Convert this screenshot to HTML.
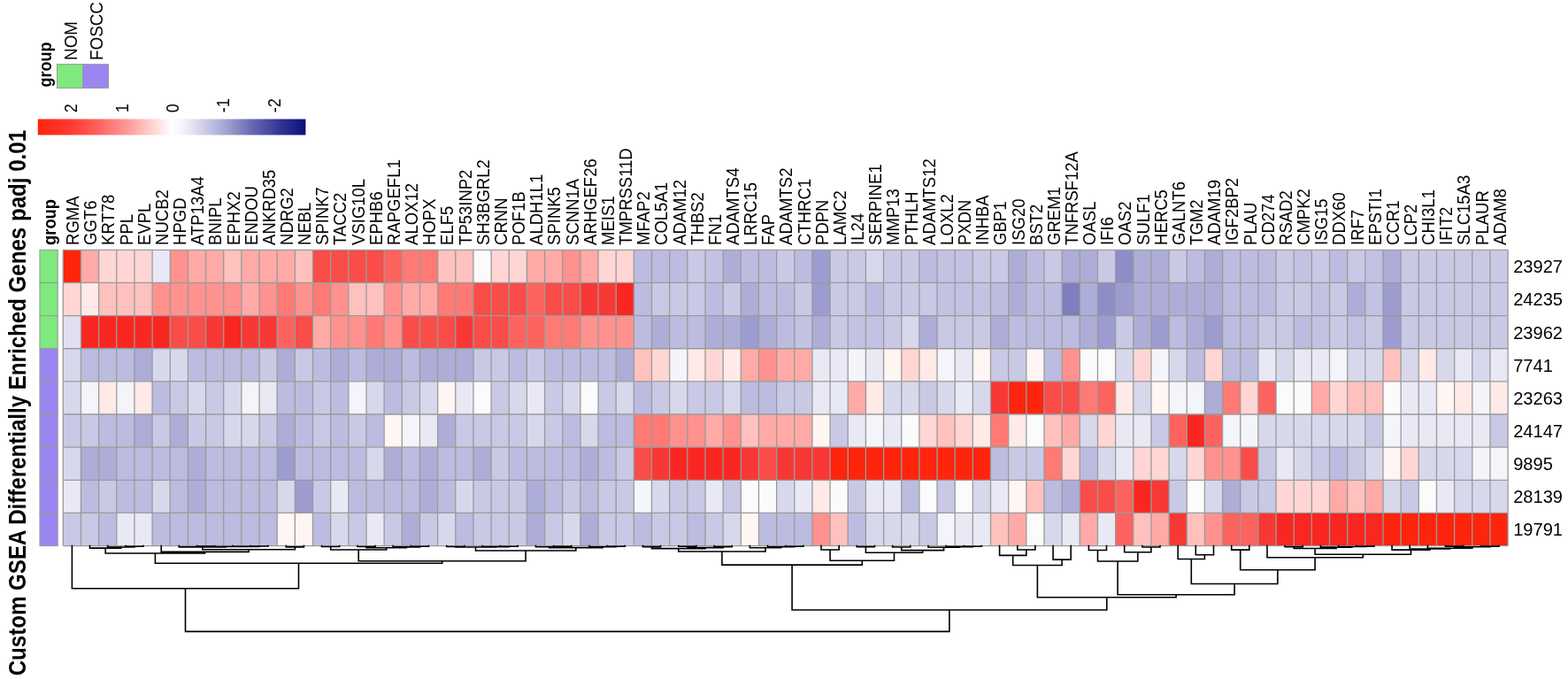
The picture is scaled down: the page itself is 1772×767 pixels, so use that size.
<!DOCTYPE html>
<html><head><meta charset="utf-8"><title>Custom GSEA Differentially Enriched Genes padj 0.01</title>
<style>html,body{margin:0;padding:0;background:#fff;}svg{display:block;}text{font-family:'Liberation Sans', Arial, Helvetica, sans-serif;fill:#000;}</style></head><body>
<svg width="1772" height="767" viewBox="0 0 1772 767">
<rect width="1772" height="767" fill="#fff"/>
<text transform="translate(29.3,763.3) rotate(-90) scale(1,1.110)" font-size="24.1" font-weight="bold">Custom GSEA Differentially Enriched Genes padj 0.01</text>
<text transform="translate(58.0,98.5) rotate(-90) scale(1,1.100)" font-size="18" font-weight="bold">group</text>
<rect x="64.5" y="72.6" width="29" height="26.8" fill="#7eea7e" stroke="#999" stroke-width="1"/>
<rect x="93.5" y="72.6" width="29" height="26.8" fill="#9b85f0" stroke="#999" stroke-width="1"/>
<text transform="translate(86.8,67.9) rotate(-90) scale(1,1.100)" font-size="18.8">NOM</text>
<text transform="translate(115.8,67.9) rotate(-90) scale(1,1.100)" font-size="18.8">FOSCC</text>
<defs><linearGradient id="cb" x1="0" x2="1" y1="0" y2="0"><stop offset="0" stop-color="#ff230f"/><stop offset="0.12" stop-color="#ff3a30"/><stop offset="0.22" stop-color="#ff5f5a"/><stop offset="0.33" stop-color="#ff9696"/><stop offset="0.42" stop-color="#ffcdcd"/><stop offset="0.5" stop-color="#ffffff"/><stop offset="0.53" stop-color="#f8f8fb"/><stop offset="0.6" stop-color="#d8d8ec"/><stop offset="0.7" stop-color="#a5a5d3"/><stop offset="0.8" stop-color="#6868b4"/><stop offset="0.9" stop-color="#343796"/><stop offset="1" stop-color="#0a0f7d"/></linearGradient></defs>
<rect x="42.8" y="134.5" width="302.6" height="18" fill="url(#cb)"/>
<text transform="translate(87.3,127.2) rotate(-90) scale(1,1.100)" font-size="18">2</text>
<text transform="translate(144.6,127.2) rotate(-90) scale(1,1.100)" font-size="18">1</text>
<text transform="translate(201.9,127.2) rotate(-90) scale(1,1.100)" font-size="18">0</text>
<text transform="translate(259.2,127.2) rotate(-90) scale(1,1.100)" font-size="18">-1</text>
<text transform="translate(316.5,127.2) rotate(-90) scale(1,1.100)" font-size="18">-2</text>
<text transform="translate(62.6,277.0) rotate(-90) scale(1,1.100)" font-size="18.4" font-weight="bold">group</text>
<rect x="45.0" y="282.30" width="20.2" height="37.14" fill="#7eea7e" stroke="#999" stroke-width="1.1"/>
<rect x="45.0" y="319.44" width="20.2" height="37.14" fill="#7eea7e" stroke="#999" stroke-width="1.1"/>
<rect x="45.0" y="356.59" width="20.2" height="37.14" fill="#7eea7e" stroke="#999" stroke-width="1.1"/>
<rect x="45.0" y="393.73" width="20.2" height="37.14" fill="#9b85f0" stroke="#999" stroke-width="1.1"/>
<rect x="45.0" y="430.88" width="20.2" height="37.14" fill="#9b85f0" stroke="#999" stroke-width="1.1"/>
<rect x="45.0" y="468.02" width="20.2" height="37.14" fill="#9b85f0" stroke="#999" stroke-width="1.1"/>
<rect x="45.0" y="505.17" width="20.2" height="37.14" fill="#9b85f0" stroke="#999" stroke-width="1.1"/>
<rect x="45.0" y="542.31" width="20.2" height="37.14" fill="#9b85f0" stroke="#999" stroke-width="1.1"/>
<rect x="45.0" y="579.46" width="20.2" height="37.14" fill="#9b85f0" stroke="#999" stroke-width="1.1"/>
<rect x="71.30" y="282.30" width="20.16" height="37.14" fill="#ff240c"/>
<rect x="91.46" y="282.30" width="20.16" height="37.14" fill="#ffaaa6"/>
<rect x="111.62" y="282.30" width="20.16" height="37.14" fill="#ffd6d4"/>
<rect x="131.77" y="282.30" width="20.16" height="37.14" fill="#ffd6d4"/>
<rect x="151.93" y="282.30" width="20.16" height="37.14" fill="#ffd6d4"/>
<rect x="172.09" y="282.30" width="20.16" height="37.14" fill="#e9e9f6"/>
<rect x="192.25" y="282.30" width="20.16" height="37.14" fill="#ff928e"/>
<rect x="212.41" y="282.30" width="20.16" height="37.14" fill="#ffaaa6"/>
<rect x="232.56" y="282.30" width="20.16" height="37.14" fill="#ffaaa6"/>
<rect x="252.72" y="282.30" width="20.16" height="37.14" fill="#ffc1be"/>
<rect x="272.88" y="282.30" width="20.16" height="37.14" fill="#ffaaa6"/>
<rect x="293.04" y="282.30" width="20.16" height="37.14" fill="#ffaaa6"/>
<rect x="313.20" y="282.30" width="20.16" height="37.14" fill="#ffaaa6"/>
<rect x="333.35" y="282.30" width="20.16" height="37.14" fill="#ffc1be"/>
<rect x="353.51" y="282.30" width="20.16" height="37.14" fill="#fa4c48"/>
<rect x="373.67" y="282.30" width="20.16" height="37.14" fill="#fa4c48"/>
<rect x="393.83" y="282.30" width="20.16" height="37.14" fill="#fa4c48"/>
<rect x="413.99" y="282.30" width="20.16" height="37.14" fill="#fa4c48"/>
<rect x="434.14" y="282.30" width="20.16" height="37.14" fill="#fd635e"/>
<rect x="454.30" y="282.30" width="20.16" height="37.14" fill="#ff7a75"/>
<rect x="474.46" y="282.30" width="20.16" height="37.14" fill="#ff7a75"/>
<rect x="494.62" y="282.30" width="20.16" height="37.14" fill="#ffc1be"/>
<rect x="514.78" y="282.30" width="20.16" height="37.14" fill="#ffc1be"/>
<rect x="534.93" y="282.30" width="20.16" height="37.14" fill="#fcfbfc"/>
<rect x="555.09" y="282.30" width="20.16" height="37.14" fill="#ffd6d4"/>
<rect x="575.25" y="282.30" width="20.16" height="37.14" fill="#ffd6d4"/>
<rect x="595.41" y="282.30" width="20.16" height="37.14" fill="#ffaaa6"/>
<rect x="615.57" y="282.30" width="20.16" height="37.14" fill="#ffaaa6"/>
<rect x="635.72" y="282.30" width="20.16" height="37.14" fill="#ff928e"/>
<rect x="655.88" y="282.30" width="20.16" height="37.14" fill="#ffaaa6"/>
<rect x="676.04" y="282.30" width="20.16" height="37.14" fill="#ffd6d4"/>
<rect x="696.20" y="282.30" width="20.16" height="37.14" fill="#ffd6d4"/>
<rect x="716.36" y="282.30" width="20.16" height="37.14" fill="#bcbce0"/>
<rect x="736.51" y="282.30" width="20.16" height="37.14" fill="#bcbce0"/>
<rect x="756.67" y="282.30" width="20.16" height="37.14" fill="#bcbce0"/>
<rect x="776.83" y="282.30" width="20.16" height="37.14" fill="#c9c9e6"/>
<rect x="796.99" y="282.30" width="20.16" height="37.14" fill="#c2c2e3"/>
<rect x="817.15" y="282.30" width="20.16" height="37.14" fill="#adadd8"/>
<rect x="837.30" y="282.30" width="20.16" height="37.14" fill="#bcbce0"/>
<rect x="857.46" y="282.30" width="20.16" height="37.14" fill="#bcbce0"/>
<rect x="877.62" y="282.30" width="20.16" height="37.14" fill="#c9c9e6"/>
<rect x="897.78" y="282.30" width="20.16" height="37.14" fill="#bcbce0"/>
<rect x="917.94" y="282.30" width="20.16" height="37.14" fill="#9c9cd0"/>
<rect x="938.10" y="282.30" width="20.16" height="37.14" fill="#c9c9e6"/>
<rect x="958.25" y="282.30" width="20.16" height="37.14" fill="#c9c9e6"/>
<rect x="978.41" y="282.30" width="20.16" height="37.14" fill="#d8d8ed"/>
<rect x="998.57" y="282.30" width="20.16" height="37.14" fill="#c9c9e6"/>
<rect x="1018.73" y="282.30" width="20.16" height="37.14" fill="#c9c9e6"/>
<rect x="1038.89" y="282.30" width="20.16" height="37.14" fill="#bcbce0"/>
<rect x="1059.04" y="282.30" width="20.16" height="37.14" fill="#c2c2e3"/>
<rect x="1079.20" y="282.30" width="20.16" height="37.14" fill="#c2c2e3"/>
<rect x="1099.36" y="282.30" width="20.16" height="37.14" fill="#c9c9e6"/>
<rect x="1119.52" y="282.30" width="20.16" height="37.14" fill="#c9c9e6"/>
<rect x="1139.68" y="282.30" width="20.16" height="37.14" fill="#adadd8"/>
<rect x="1159.83" y="282.30" width="20.16" height="37.14" fill="#bcbce0"/>
<rect x="1179.99" y="282.30" width="20.16" height="37.14" fill="#c9c9e6"/>
<rect x="1200.15" y="282.30" width="20.16" height="37.14" fill="#adadd8"/>
<rect x="1220.31" y="282.30" width="20.16" height="37.14" fill="#adadd8"/>
<rect x="1240.47" y="282.30" width="20.16" height="37.14" fill="#c9c9e6"/>
<rect x="1260.62" y="282.30" width="20.16" height="37.14" fill="#8d8dc8"/>
<rect x="1280.78" y="282.30" width="20.16" height="37.14" fill="#adadd8"/>
<rect x="1300.94" y="282.30" width="20.16" height="37.14" fill="#adadd8"/>
<rect x="1321.10" y="282.30" width="20.16" height="37.14" fill="#c9c9e6"/>
<rect x="1341.26" y="282.30" width="20.16" height="37.14" fill="#bcbce0"/>
<rect x="1361.41" y="282.30" width="20.16" height="37.14" fill="#adadd8"/>
<rect x="1381.57" y="282.30" width="20.16" height="37.14" fill="#bcbce0"/>
<rect x="1401.73" y="282.30" width="20.16" height="37.14" fill="#bcbce0"/>
<rect x="1421.89" y="282.30" width="20.16" height="37.14" fill="#bcbce0"/>
<rect x="1442.05" y="282.30" width="20.16" height="37.14" fill="#c9c9e6"/>
<rect x="1462.20" y="282.30" width="20.16" height="37.14" fill="#c2c2e3"/>
<rect x="1482.36" y="282.30" width="20.16" height="37.14" fill="#c9c9e6"/>
<rect x="1502.52" y="282.30" width="20.16" height="37.14" fill="#bcbce0"/>
<rect x="1522.68" y="282.30" width="20.16" height="37.14" fill="#c9c9e6"/>
<rect x="1542.84" y="282.30" width="20.16" height="37.14" fill="#c2c2e3"/>
<rect x="1562.99" y="282.30" width="20.16" height="37.14" fill="#adadd8"/>
<rect x="1583.15" y="282.30" width="20.16" height="37.14" fill="#c9c9e6"/>
<rect x="1603.31" y="282.30" width="20.16" height="37.14" fill="#c9c9e6"/>
<rect x="1623.47" y="282.30" width="20.16" height="37.14" fill="#c9c9e6"/>
<rect x="1643.63" y="282.30" width="20.16" height="37.14" fill="#c9c9e6"/>
<rect x="1663.78" y="282.30" width="20.16" height="37.14" fill="#c9c9e6"/>
<rect x="1683.94" y="282.30" width="20.16" height="37.14" fill="#c9c9e6"/>
<rect x="71.30" y="319.44" width="20.16" height="37.14" fill="#ffd6d4"/>
<rect x="91.46" y="319.44" width="20.16" height="37.14" fill="#ffeae8"/>
<rect x="111.62" y="319.44" width="20.16" height="37.14" fill="#ffc1be"/>
<rect x="131.77" y="319.44" width="20.16" height="37.14" fill="#ffc1be"/>
<rect x="151.93" y="319.44" width="20.16" height="37.14" fill="#ffc1be"/>
<rect x="172.09" y="319.44" width="20.16" height="37.14" fill="#ff928e"/>
<rect x="192.25" y="319.44" width="20.16" height="37.14" fill="#ff928e"/>
<rect x="212.41" y="319.44" width="20.16" height="37.14" fill="#ff928e"/>
<rect x="232.56" y="319.44" width="20.16" height="37.14" fill="#ff928e"/>
<rect x="252.72" y="319.44" width="20.16" height="37.14" fill="#ff928e"/>
<rect x="272.88" y="319.44" width="20.16" height="37.14" fill="#ffaaa6"/>
<rect x="293.04" y="319.44" width="20.16" height="37.14" fill="#ff928e"/>
<rect x="313.20" y="319.44" width="20.16" height="37.14" fill="#ff7a75"/>
<rect x="333.35" y="319.44" width="20.16" height="37.14" fill="#ff928e"/>
<rect x="353.51" y="319.44" width="20.16" height="37.14" fill="#ff7a75"/>
<rect x="373.67" y="319.44" width="20.16" height="37.14" fill="#ff928e"/>
<rect x="393.83" y="319.44" width="20.16" height="37.14" fill="#ffc1be"/>
<rect x="413.99" y="319.44" width="20.16" height="37.14" fill="#ffc1be"/>
<rect x="434.14" y="319.44" width="20.16" height="37.14" fill="#ff928e"/>
<rect x="454.30" y="319.44" width="20.16" height="37.14" fill="#ffaaa6"/>
<rect x="474.46" y="319.44" width="20.16" height="37.14" fill="#ffaaa6"/>
<rect x="494.62" y="319.44" width="20.16" height="37.14" fill="#ff7a75"/>
<rect x="514.78" y="319.44" width="20.16" height="37.14" fill="#ff7a75"/>
<rect x="534.93" y="319.44" width="20.16" height="37.14" fill="#fa4c48"/>
<rect x="555.09" y="319.44" width="20.16" height="37.14" fill="#fa4c48"/>
<rect x="575.25" y="319.44" width="20.16" height="37.14" fill="#fa4c48"/>
<rect x="595.41" y="319.44" width="20.16" height="37.14" fill="#fd635e"/>
<rect x="615.57" y="319.44" width="20.16" height="37.14" fill="#fa4c48"/>
<rect x="635.72" y="319.44" width="20.16" height="37.14" fill="#fa4c48"/>
<rect x="655.88" y="319.44" width="20.16" height="37.14" fill="#f83835"/>
<rect x="676.04" y="319.44" width="20.16" height="37.14" fill="#f83835"/>
<rect x="696.20" y="319.44" width="20.16" height="37.14" fill="#fa2621"/>
<rect x="716.36" y="319.44" width="20.16" height="37.14" fill="#bcbce0"/>
<rect x="736.51" y="319.44" width="20.16" height="37.14" fill="#c9c9e6"/>
<rect x="756.67" y="319.44" width="20.16" height="37.14" fill="#c9c9e6"/>
<rect x="776.83" y="319.44" width="20.16" height="37.14" fill="#c9c9e6"/>
<rect x="796.99" y="319.44" width="20.16" height="37.14" fill="#bcbce0"/>
<rect x="817.15" y="319.44" width="20.16" height="37.14" fill="#c9c9e6"/>
<rect x="837.30" y="319.44" width="20.16" height="37.14" fill="#adadd8"/>
<rect x="857.46" y="319.44" width="20.16" height="37.14" fill="#bcbce0"/>
<rect x="877.62" y="319.44" width="20.16" height="37.14" fill="#bcbce0"/>
<rect x="897.78" y="319.44" width="20.16" height="37.14" fill="#c9c9e6"/>
<rect x="917.94" y="319.44" width="20.16" height="37.14" fill="#9c9cd0"/>
<rect x="938.10" y="319.44" width="20.16" height="37.14" fill="#c9c9e6"/>
<rect x="958.25" y="319.44" width="20.16" height="37.14" fill="#c9c9e6"/>
<rect x="978.41" y="319.44" width="20.16" height="37.14" fill="#bcbce0"/>
<rect x="998.57" y="319.44" width="20.16" height="37.14" fill="#c9c9e6"/>
<rect x="1018.73" y="319.44" width="20.16" height="37.14" fill="#c9c9e6"/>
<rect x="1038.89" y="319.44" width="20.16" height="37.14" fill="#c9c9e6"/>
<rect x="1059.04" y="319.44" width="20.16" height="37.14" fill="#c2c2e3"/>
<rect x="1079.20" y="319.44" width="20.16" height="37.14" fill="#c2c2e3"/>
<rect x="1099.36" y="319.44" width="20.16" height="37.14" fill="#c2c2e3"/>
<rect x="1119.52" y="319.44" width="20.16" height="37.14" fill="#bcbce0"/>
<rect x="1139.68" y="319.44" width="20.16" height="37.14" fill="#adadd8"/>
<rect x="1159.83" y="319.44" width="20.16" height="37.14" fill="#bcbce0"/>
<rect x="1179.99" y="319.44" width="20.16" height="37.14" fill="#bcbce0"/>
<rect x="1200.15" y="319.44" width="20.16" height="37.14" fill="#7e7ec0"/>
<rect x="1220.31" y="319.44" width="20.16" height="37.14" fill="#adadd8"/>
<rect x="1240.47" y="319.44" width="20.16" height="37.14" fill="#8d8dc8"/>
<rect x="1260.62" y="319.44" width="20.16" height="37.14" fill="#9c9cd0"/>
<rect x="1280.78" y="319.44" width="20.16" height="37.14" fill="#adadd8"/>
<rect x="1300.94" y="319.44" width="20.16" height="37.14" fill="#adadd8"/>
<rect x="1321.10" y="319.44" width="20.16" height="37.14" fill="#adadd8"/>
<rect x="1341.26" y="319.44" width="20.16" height="37.14" fill="#adadd8"/>
<rect x="1361.41" y="319.44" width="20.16" height="37.14" fill="#adadd8"/>
<rect x="1381.57" y="319.44" width="20.16" height="37.14" fill="#bcbce0"/>
<rect x="1401.73" y="319.44" width="20.16" height="37.14" fill="#bcbce0"/>
<rect x="1421.89" y="319.44" width="20.16" height="37.14" fill="#bcbce0"/>
<rect x="1442.05" y="319.44" width="20.16" height="37.14" fill="#c9c9e6"/>
<rect x="1462.20" y="319.44" width="20.16" height="37.14" fill="#c9c9e6"/>
<rect x="1482.36" y="319.44" width="20.16" height="37.14" fill="#c2c2e3"/>
<rect x="1502.52" y="319.44" width="20.16" height="37.14" fill="#c9c9e6"/>
<rect x="1522.68" y="319.44" width="20.16" height="37.14" fill="#adadd8"/>
<rect x="1542.84" y="319.44" width="20.16" height="37.14" fill="#c2c2e3"/>
<rect x="1562.99" y="319.44" width="20.16" height="37.14" fill="#9c9cd0"/>
<rect x="1583.15" y="319.44" width="20.16" height="37.14" fill="#c9c9e6"/>
<rect x="1603.31" y="319.44" width="20.16" height="37.14" fill="#c9c9e6"/>
<rect x="1623.47" y="319.44" width="20.16" height="37.14" fill="#c9c9e6"/>
<rect x="1643.63" y="319.44" width="20.16" height="37.14" fill="#c9c9e6"/>
<rect x="1663.78" y="319.44" width="20.16" height="37.14" fill="#c9c9e6"/>
<rect x="1683.94" y="319.44" width="20.16" height="37.14" fill="#c9c9e6"/>
<rect x="71.30" y="356.59" width="20.16" height="37.14" fill="#e0e0f1"/>
<rect x="91.46" y="356.59" width="20.16" height="37.14" fill="#fa2621"/>
<rect x="111.62" y="356.59" width="20.16" height="37.14" fill="#fa2621"/>
<rect x="131.77" y="356.59" width="20.16" height="37.14" fill="#fa2621"/>
<rect x="151.93" y="356.59" width="20.16" height="37.14" fill="#fa2621"/>
<rect x="172.09" y="356.59" width="20.16" height="37.14" fill="#fa2621"/>
<rect x="192.25" y="356.59" width="20.16" height="37.14" fill="#fa4c48"/>
<rect x="212.41" y="356.59" width="20.16" height="37.14" fill="#fa4c48"/>
<rect x="232.56" y="356.59" width="20.16" height="37.14" fill="#f83835"/>
<rect x="252.72" y="356.59" width="20.16" height="37.14" fill="#fa2621"/>
<rect x="272.88" y="356.59" width="20.16" height="37.14" fill="#f83835"/>
<rect x="293.04" y="356.59" width="20.16" height="37.14" fill="#f83835"/>
<rect x="313.20" y="356.59" width="20.16" height="37.14" fill="#fd635e"/>
<rect x="333.35" y="356.59" width="20.16" height="37.14" fill="#fa4c48"/>
<rect x="353.51" y="356.59" width="20.16" height="37.14" fill="#ffaaa6"/>
<rect x="373.67" y="356.59" width="20.16" height="37.14" fill="#ff928e"/>
<rect x="393.83" y="356.59" width="20.16" height="37.14" fill="#ff928e"/>
<rect x="413.99" y="356.59" width="20.16" height="37.14" fill="#ff7a75"/>
<rect x="434.14" y="356.59" width="20.16" height="37.14" fill="#ff928e"/>
<rect x="454.30" y="356.59" width="20.16" height="37.14" fill="#fa4c48"/>
<rect x="474.46" y="356.59" width="20.16" height="37.14" fill="#fa4c48"/>
<rect x="494.62" y="356.59" width="20.16" height="37.14" fill="#fa4c48"/>
<rect x="514.78" y="356.59" width="20.16" height="37.14" fill="#f83835"/>
<rect x="534.93" y="356.59" width="20.16" height="37.14" fill="#fa4c48"/>
<rect x="555.09" y="356.59" width="20.16" height="37.14" fill="#fa4c48"/>
<rect x="575.25" y="356.59" width="20.16" height="37.14" fill="#fd635e"/>
<rect x="595.41" y="356.59" width="20.16" height="37.14" fill="#fd635e"/>
<rect x="615.57" y="356.59" width="20.16" height="37.14" fill="#ff7a75"/>
<rect x="635.72" y="356.59" width="20.16" height="37.14" fill="#ff7a75"/>
<rect x="655.88" y="356.59" width="20.16" height="37.14" fill="#ff928e"/>
<rect x="676.04" y="356.59" width="20.16" height="37.14" fill="#ff928e"/>
<rect x="696.20" y="356.59" width="20.16" height="37.14" fill="#ff928e"/>
<rect x="716.36" y="356.59" width="20.16" height="37.14" fill="#bcbce0"/>
<rect x="736.51" y="356.59" width="20.16" height="37.14" fill="#adadd8"/>
<rect x="756.67" y="356.59" width="20.16" height="37.14" fill="#bcbce0"/>
<rect x="776.83" y="356.59" width="20.16" height="37.14" fill="#bcbce0"/>
<rect x="796.99" y="356.59" width="20.16" height="37.14" fill="#adadd8"/>
<rect x="817.15" y="356.59" width="20.16" height="37.14" fill="#adadd8"/>
<rect x="837.30" y="356.59" width="20.16" height="37.14" fill="#9c9cd0"/>
<rect x="857.46" y="356.59" width="20.16" height="37.14" fill="#adadd8"/>
<rect x="877.62" y="356.59" width="20.16" height="37.14" fill="#bcbce0"/>
<rect x="897.78" y="356.59" width="20.16" height="37.14" fill="#c2c2e3"/>
<rect x="917.94" y="356.59" width="20.16" height="37.14" fill="#adadd8"/>
<rect x="938.10" y="356.59" width="20.16" height="37.14" fill="#c9c9e6"/>
<rect x="958.25" y="356.59" width="20.16" height="37.14" fill="#c2c2e3"/>
<rect x="978.41" y="356.59" width="20.16" height="37.14" fill="#c2c2e3"/>
<rect x="998.57" y="356.59" width="20.16" height="37.14" fill="#c9c9e6"/>
<rect x="1018.73" y="356.59" width="20.16" height="37.14" fill="#d8d8ed"/>
<rect x="1038.89" y="356.59" width="20.16" height="37.14" fill="#adadd8"/>
<rect x="1059.04" y="356.59" width="20.16" height="37.14" fill="#c9c9e6"/>
<rect x="1079.20" y="356.59" width="20.16" height="37.14" fill="#c9c9e6"/>
<rect x="1099.36" y="356.59" width="20.16" height="37.14" fill="#c9c9e6"/>
<rect x="1119.52" y="356.59" width="20.16" height="37.14" fill="#adadd8"/>
<rect x="1139.68" y="356.59" width="20.16" height="37.14" fill="#bcbce0"/>
<rect x="1159.83" y="356.59" width="20.16" height="37.14" fill="#bcbce0"/>
<rect x="1179.99" y="356.59" width="20.16" height="37.14" fill="#bcbce0"/>
<rect x="1200.15" y="356.59" width="20.16" height="37.14" fill="#bcbce0"/>
<rect x="1220.31" y="356.59" width="20.16" height="37.14" fill="#adadd8"/>
<rect x="1240.47" y="356.59" width="20.16" height="37.14" fill="#9c9cd0"/>
<rect x="1260.62" y="356.59" width="20.16" height="37.14" fill="#c9c9e6"/>
<rect x="1280.78" y="356.59" width="20.16" height="37.14" fill="#adadd8"/>
<rect x="1300.94" y="356.59" width="20.16" height="37.14" fill="#9c9cd0"/>
<rect x="1321.10" y="356.59" width="20.16" height="37.14" fill="#bcbce0"/>
<rect x="1341.26" y="356.59" width="20.16" height="37.14" fill="#adadd8"/>
<rect x="1361.41" y="356.59" width="20.16" height="37.14" fill="#9c9cd0"/>
<rect x="1381.57" y="356.59" width="20.16" height="37.14" fill="#bcbce0"/>
<rect x="1401.73" y="356.59" width="20.16" height="37.14" fill="#bcbce0"/>
<rect x="1421.89" y="356.59" width="20.16" height="37.14" fill="#c9c9e6"/>
<rect x="1442.05" y="356.59" width="20.16" height="37.14" fill="#c9c9e6"/>
<rect x="1462.20" y="356.59" width="20.16" height="37.14" fill="#bcbce0"/>
<rect x="1482.36" y="356.59" width="20.16" height="37.14" fill="#c2c2e3"/>
<rect x="1502.52" y="356.59" width="20.16" height="37.14" fill="#c9c9e6"/>
<rect x="1522.68" y="356.59" width="20.16" height="37.14" fill="#c2c2e3"/>
<rect x="1542.84" y="356.59" width="20.16" height="37.14" fill="#c9c9e6"/>
<rect x="1562.99" y="356.59" width="20.16" height="37.14" fill="#9c9cd0"/>
<rect x="1583.15" y="356.59" width="20.16" height="37.14" fill="#c9c9e6"/>
<rect x="1603.31" y="356.59" width="20.16" height="37.14" fill="#c9c9e6"/>
<rect x="1623.47" y="356.59" width="20.16" height="37.14" fill="#c9c9e6"/>
<rect x="1643.63" y="356.59" width="20.16" height="37.14" fill="#c9c9e6"/>
<rect x="1663.78" y="356.59" width="20.16" height="37.14" fill="#c9c9e6"/>
<rect x="1683.94" y="356.59" width="20.16" height="37.14" fill="#c9c9e6"/>
<rect x="71.30" y="393.73" width="20.16" height="37.14" fill="#d8d8ed"/>
<rect x="91.46" y="393.73" width="20.16" height="37.14" fill="#bcbce0"/>
<rect x="111.62" y="393.73" width="20.16" height="37.14" fill="#bcbce0"/>
<rect x="131.77" y="393.73" width="20.16" height="37.14" fill="#bcbce0"/>
<rect x="151.93" y="393.73" width="20.16" height="37.14" fill="#adadd8"/>
<rect x="172.09" y="393.73" width="20.16" height="37.14" fill="#d8d8ed"/>
<rect x="192.25" y="393.73" width="20.16" height="37.14" fill="#d8d8ed"/>
<rect x="212.41" y="393.73" width="20.16" height="37.14" fill="#bcbce0"/>
<rect x="232.56" y="393.73" width="20.16" height="37.14" fill="#bcbce0"/>
<rect x="252.72" y="393.73" width="20.16" height="37.14" fill="#bcbce0"/>
<rect x="272.88" y="393.73" width="20.16" height="37.14" fill="#bcbce0"/>
<rect x="293.04" y="393.73" width="20.16" height="37.14" fill="#c9c9e6"/>
<rect x="313.20" y="393.73" width="20.16" height="37.14" fill="#adadd8"/>
<rect x="333.35" y="393.73" width="20.16" height="37.14" fill="#c9c9e6"/>
<rect x="353.51" y="393.73" width="20.16" height="37.14" fill="#bcbce0"/>
<rect x="373.67" y="393.73" width="20.16" height="37.14" fill="#adadd8"/>
<rect x="393.83" y="393.73" width="20.16" height="37.14" fill="#bcbce0"/>
<rect x="413.99" y="393.73" width="20.16" height="37.14" fill="#adadd8"/>
<rect x="434.14" y="393.73" width="20.16" height="37.14" fill="#adadd8"/>
<rect x="454.30" y="393.73" width="20.16" height="37.14" fill="#bcbce0"/>
<rect x="474.46" y="393.73" width="20.16" height="37.14" fill="#adadd8"/>
<rect x="494.62" y="393.73" width="20.16" height="37.14" fill="#adadd8"/>
<rect x="514.78" y="393.73" width="20.16" height="37.14" fill="#adadd8"/>
<rect x="534.93" y="393.73" width="20.16" height="37.14" fill="#c9c9e6"/>
<rect x="555.09" y="393.73" width="20.16" height="37.14" fill="#c9c9e6"/>
<rect x="575.25" y="393.73" width="20.16" height="37.14" fill="#bcbce0"/>
<rect x="595.41" y="393.73" width="20.16" height="37.14" fill="#c9c9e6"/>
<rect x="615.57" y="393.73" width="20.16" height="37.14" fill="#bcbce0"/>
<rect x="635.72" y="393.73" width="20.16" height="37.14" fill="#bcbce0"/>
<rect x="655.88" y="393.73" width="20.16" height="37.14" fill="#bcbce0"/>
<rect x="676.04" y="393.73" width="20.16" height="37.14" fill="#bcbce0"/>
<rect x="696.20" y="393.73" width="20.16" height="37.14" fill="#adadd8"/>
<rect x="716.36" y="393.73" width="20.16" height="37.14" fill="#ffc1be"/>
<rect x="736.51" y="393.73" width="20.16" height="37.14" fill="#ffd6d4"/>
<rect x="756.67" y="393.73" width="20.16" height="37.14" fill="#f4f4fb"/>
<rect x="776.83" y="393.73" width="20.16" height="37.14" fill="#ffeae8"/>
<rect x="796.99" y="393.73" width="20.16" height="37.14" fill="#ffd6d4"/>
<rect x="817.15" y="393.73" width="20.16" height="37.14" fill="#ffeae8"/>
<rect x="837.30" y="393.73" width="20.16" height="37.14" fill="#ffaaa6"/>
<rect x="857.46" y="393.73" width="20.16" height="37.14" fill="#ff928e"/>
<rect x="877.62" y="393.73" width="20.16" height="37.14" fill="#ffaaa6"/>
<rect x="897.78" y="393.73" width="20.16" height="37.14" fill="#ffaaa6"/>
<rect x="917.94" y="393.73" width="20.16" height="37.14" fill="#e9e9f6"/>
<rect x="938.10" y="393.73" width="20.16" height="37.14" fill="#e9e9f6"/>
<rect x="958.25" y="393.73" width="20.16" height="37.14" fill="#f4f4fb"/>
<rect x="978.41" y="393.73" width="20.16" height="37.14" fill="#e9e9f6"/>
<rect x="998.57" y="393.73" width="20.16" height="37.14" fill="#fff5f3"/>
<rect x="1018.73" y="393.73" width="20.16" height="37.14" fill="#ffd6d4"/>
<rect x="1038.89" y="393.73" width="20.16" height="37.14" fill="#ffeae8"/>
<rect x="1059.04" y="393.73" width="20.16" height="37.14" fill="#f4f4fb"/>
<rect x="1079.20" y="393.73" width="20.16" height="37.14" fill="#e9e9f6"/>
<rect x="1099.36" y="393.73" width="20.16" height="37.14" fill="#fff5f3"/>
<rect x="1119.52" y="393.73" width="20.16" height="37.14" fill="#c9c9e6"/>
<rect x="1139.68" y="393.73" width="20.16" height="37.14" fill="#c9c9e6"/>
<rect x="1159.83" y="393.73" width="20.16" height="37.14" fill="#fff5f3"/>
<rect x="1179.99" y="393.73" width="20.16" height="37.14" fill="#bcbce0"/>
<rect x="1200.15" y="393.73" width="20.16" height="37.14" fill="#ff928e"/>
<rect x="1220.31" y="393.73" width="20.16" height="37.14" fill="#fcfbfc"/>
<rect x="1240.47" y="393.73" width="20.16" height="37.14" fill="#fcfbfc"/>
<rect x="1260.62" y="393.73" width="20.16" height="37.14" fill="#d8d8ed"/>
<rect x="1280.78" y="393.73" width="20.16" height="37.14" fill="#ffd6d4"/>
<rect x="1300.94" y="393.73" width="20.16" height="37.14" fill="#f4f4fb"/>
<rect x="1321.10" y="393.73" width="20.16" height="37.14" fill="#d8d8ed"/>
<rect x="1341.26" y="393.73" width="20.16" height="37.14" fill="#bcbce0"/>
<rect x="1361.41" y="393.73" width="20.16" height="37.14" fill="#ffd6d4"/>
<rect x="1381.57" y="393.73" width="20.16" height="37.14" fill="#bcbce0"/>
<rect x="1401.73" y="393.73" width="20.16" height="37.14" fill="#bcbce0"/>
<rect x="1421.89" y="393.73" width="20.16" height="37.14" fill="#e9e9f6"/>
<rect x="1442.05" y="393.73" width="20.16" height="37.14" fill="#d8d8ed"/>
<rect x="1462.20" y="393.73" width="20.16" height="37.14" fill="#e9e9f6"/>
<rect x="1482.36" y="393.73" width="20.16" height="37.14" fill="#e9e9f6"/>
<rect x="1502.52" y="393.73" width="20.16" height="37.14" fill="#f4f4fb"/>
<rect x="1522.68" y="393.73" width="20.16" height="37.14" fill="#d8d8ed"/>
<rect x="1542.84" y="393.73" width="20.16" height="37.14" fill="#d8d8ed"/>
<rect x="1562.99" y="393.73" width="20.16" height="37.14" fill="#ffc1be"/>
<rect x="1583.15" y="393.73" width="20.16" height="37.14" fill="#d8d8ed"/>
<rect x="1603.31" y="393.73" width="20.16" height="37.14" fill="#ffeae8"/>
<rect x="1623.47" y="393.73" width="20.16" height="37.14" fill="#d8d8ed"/>
<rect x="1643.63" y="393.73" width="20.16" height="37.14" fill="#e9e9f6"/>
<rect x="1663.78" y="393.73" width="20.16" height="37.14" fill="#d8d8ed"/>
<rect x="1683.94" y="393.73" width="20.16" height="37.14" fill="#e9e9f6"/>
<rect x="71.30" y="430.88" width="20.16" height="37.14" fill="#d8d8ed"/>
<rect x="91.46" y="430.88" width="20.16" height="37.14" fill="#f4f4fb"/>
<rect x="111.62" y="430.88" width="20.16" height="37.14" fill="#ffeae8"/>
<rect x="131.77" y="430.88" width="20.16" height="37.14" fill="#f4f4fb"/>
<rect x="151.93" y="430.88" width="20.16" height="37.14" fill="#ffeae8"/>
<rect x="172.09" y="430.88" width="20.16" height="37.14" fill="#bcbce0"/>
<rect x="192.25" y="430.88" width="20.16" height="37.14" fill="#c9c9e6"/>
<rect x="212.41" y="430.88" width="20.16" height="37.14" fill="#d8d8ed"/>
<rect x="232.56" y="430.88" width="20.16" height="37.14" fill="#c9c9e6"/>
<rect x="252.72" y="430.88" width="20.16" height="37.14" fill="#d8d8ed"/>
<rect x="272.88" y="430.88" width="20.16" height="37.14" fill="#f4f4fb"/>
<rect x="293.04" y="430.88" width="20.16" height="37.14" fill="#e9e9f6"/>
<rect x="313.20" y="430.88" width="20.16" height="37.14" fill="#bcbce0"/>
<rect x="333.35" y="430.88" width="20.16" height="37.14" fill="#bcbce0"/>
<rect x="353.51" y="430.88" width="20.16" height="37.14" fill="#c9c9e6"/>
<rect x="373.67" y="430.88" width="20.16" height="37.14" fill="#bcbce0"/>
<rect x="393.83" y="430.88" width="20.16" height="37.14" fill="#f4f4fb"/>
<rect x="413.99" y="430.88" width="20.16" height="37.14" fill="#d8d8ed"/>
<rect x="434.14" y="430.88" width="20.16" height="37.14" fill="#bcbce0"/>
<rect x="454.30" y="430.88" width="20.16" height="37.14" fill="#c9c9e6"/>
<rect x="474.46" y="430.88" width="20.16" height="37.14" fill="#d8d8ed"/>
<rect x="494.62" y="430.88" width="20.16" height="37.14" fill="#fff5f3"/>
<rect x="514.78" y="430.88" width="20.16" height="37.14" fill="#e9e9f6"/>
<rect x="534.93" y="430.88" width="20.16" height="37.14" fill="#fcfbfc"/>
<rect x="555.09" y="430.88" width="20.16" height="37.14" fill="#c9c9e6"/>
<rect x="575.25" y="430.88" width="20.16" height="37.14" fill="#d8d8ed"/>
<rect x="595.41" y="430.88" width="20.16" height="37.14" fill="#e9e9f6"/>
<rect x="615.57" y="430.88" width="20.16" height="37.14" fill="#c9c9e6"/>
<rect x="635.72" y="430.88" width="20.16" height="37.14" fill="#d8d8ed"/>
<rect x="655.88" y="430.88" width="20.16" height="37.14" fill="#fcfbfc"/>
<rect x="676.04" y="430.88" width="20.16" height="37.14" fill="#c9c9e6"/>
<rect x="696.20" y="430.88" width="20.16" height="37.14" fill="#d8d8ed"/>
<rect x="716.36" y="430.88" width="20.16" height="37.14" fill="#bcbce0"/>
<rect x="736.51" y="430.88" width="20.16" height="37.14" fill="#c9c9e6"/>
<rect x="756.67" y="430.88" width="20.16" height="37.14" fill="#d8d8ed"/>
<rect x="776.83" y="430.88" width="20.16" height="37.14" fill="#c9c9e6"/>
<rect x="796.99" y="430.88" width="20.16" height="37.14" fill="#c9c9e6"/>
<rect x="817.15" y="430.88" width="20.16" height="37.14" fill="#d8d8ed"/>
<rect x="837.30" y="430.88" width="20.16" height="37.14" fill="#bcbce0"/>
<rect x="857.46" y="430.88" width="20.16" height="37.14" fill="#bcbce0"/>
<rect x="877.62" y="430.88" width="20.16" height="37.14" fill="#c9c9e6"/>
<rect x="897.78" y="430.88" width="20.16" height="37.14" fill="#c9c9e6"/>
<rect x="917.94" y="430.88" width="20.16" height="37.14" fill="#e9e9f6"/>
<rect x="938.10" y="430.88" width="20.16" height="37.14" fill="#e9e9f6"/>
<rect x="958.25" y="430.88" width="20.16" height="37.14" fill="#ffaaa6"/>
<rect x="978.41" y="430.88" width="20.16" height="37.14" fill="#ffeae8"/>
<rect x="998.57" y="430.88" width="20.16" height="37.14" fill="#d8d8ed"/>
<rect x="1018.73" y="430.88" width="20.16" height="37.14" fill="#d8d8ed"/>
<rect x="1038.89" y="430.88" width="20.16" height="37.14" fill="#c9c9e6"/>
<rect x="1059.04" y="430.88" width="20.16" height="37.14" fill="#d8d8ed"/>
<rect x="1079.20" y="430.88" width="20.16" height="37.14" fill="#e9e9f6"/>
<rect x="1099.36" y="430.88" width="20.16" height="37.14" fill="#d8d8ed"/>
<rect x="1119.52" y="430.88" width="20.16" height="37.14" fill="#f83835"/>
<rect x="1139.68" y="430.88" width="20.16" height="37.14" fill="#ff240c"/>
<rect x="1159.83" y="430.88" width="20.16" height="37.14" fill="#ff240c"/>
<rect x="1179.99" y="430.88" width="20.16" height="37.14" fill="#fa4c48"/>
<rect x="1200.15" y="430.88" width="20.16" height="37.14" fill="#fa4c48"/>
<rect x="1220.31" y="430.88" width="20.16" height="37.14" fill="#ff7a75"/>
<rect x="1240.47" y="430.88" width="20.16" height="37.14" fill="#fd635e"/>
<rect x="1260.62" y="430.88" width="20.16" height="37.14" fill="#ffeae8"/>
<rect x="1280.78" y="430.88" width="20.16" height="37.14" fill="#d8d8ed"/>
<rect x="1300.94" y="430.88" width="20.16" height="37.14" fill="#fff5f3"/>
<rect x="1321.10" y="430.88" width="20.16" height="37.14" fill="#f4f4fb"/>
<rect x="1341.26" y="430.88" width="20.16" height="37.14" fill="#f4f4fb"/>
<rect x="1361.41" y="430.88" width="20.16" height="37.14" fill="#adadd8"/>
<rect x="1381.57" y="430.88" width="20.16" height="37.14" fill="#ff7a75"/>
<rect x="1401.73" y="430.88" width="20.16" height="37.14" fill="#ffd6d4"/>
<rect x="1421.89" y="430.88" width="20.16" height="37.14" fill="#fd635e"/>
<rect x="1442.05" y="430.88" width="20.16" height="37.14" fill="#fcfbfc"/>
<rect x="1462.20" y="430.88" width="20.16" height="37.14" fill="#fcfbfc"/>
<rect x="1482.36" y="430.88" width="20.16" height="37.14" fill="#ffaaa6"/>
<rect x="1502.52" y="430.88" width="20.16" height="37.14" fill="#ffd6d4"/>
<rect x="1522.68" y="430.88" width="20.16" height="37.14" fill="#ffc1be"/>
<rect x="1542.84" y="430.88" width="20.16" height="37.14" fill="#ffc1be"/>
<rect x="1562.99" y="430.88" width="20.16" height="37.14" fill="#fcfbfc"/>
<rect x="1583.15" y="430.88" width="20.16" height="37.14" fill="#e9e9f6"/>
<rect x="1603.31" y="430.88" width="20.16" height="37.14" fill="#e9e9f6"/>
<rect x="1623.47" y="430.88" width="20.16" height="37.14" fill="#fff5f3"/>
<rect x="1643.63" y="430.88" width="20.16" height="37.14" fill="#ffeae8"/>
<rect x="1663.78" y="430.88" width="20.16" height="37.14" fill="#f4f4fb"/>
<rect x="1683.94" y="430.88" width="20.16" height="37.14" fill="#ffeae8"/>
<rect x="71.30" y="468.02" width="20.16" height="37.14" fill="#c9c9e6"/>
<rect x="91.46" y="468.02" width="20.16" height="37.14" fill="#c9c9e6"/>
<rect x="111.62" y="468.02" width="20.16" height="37.14" fill="#bcbce0"/>
<rect x="131.77" y="468.02" width="20.16" height="37.14" fill="#bcbce0"/>
<rect x="151.93" y="468.02" width="20.16" height="37.14" fill="#adadd8"/>
<rect x="172.09" y="468.02" width="20.16" height="37.14" fill="#c9c9e6"/>
<rect x="192.25" y="468.02" width="20.16" height="37.14" fill="#adadd8"/>
<rect x="212.41" y="468.02" width="20.16" height="37.14" fill="#c9c9e6"/>
<rect x="232.56" y="468.02" width="20.16" height="37.14" fill="#c9c9e6"/>
<rect x="252.72" y="468.02" width="20.16" height="37.14" fill="#d8d8ed"/>
<rect x="272.88" y="468.02" width="20.16" height="37.14" fill="#d8d8ed"/>
<rect x="293.04" y="468.02" width="20.16" height="37.14" fill="#c9c9e6"/>
<rect x="313.20" y="468.02" width="20.16" height="37.14" fill="#adadd8"/>
<rect x="333.35" y="468.02" width="20.16" height="37.14" fill="#bcbce0"/>
<rect x="353.51" y="468.02" width="20.16" height="37.14" fill="#c9c9e6"/>
<rect x="373.67" y="468.02" width="20.16" height="37.14" fill="#bcbce0"/>
<rect x="393.83" y="468.02" width="20.16" height="37.14" fill="#c9c9e6"/>
<rect x="413.99" y="468.02" width="20.16" height="37.14" fill="#bcbce0"/>
<rect x="434.14" y="468.02" width="20.16" height="37.14" fill="#fff5f3"/>
<rect x="454.30" y="468.02" width="20.16" height="37.14" fill="#f4f4fb"/>
<rect x="474.46" y="468.02" width="20.16" height="37.14" fill="#e9e9f6"/>
<rect x="494.62" y="468.02" width="20.16" height="37.14" fill="#adadd8"/>
<rect x="514.78" y="468.02" width="20.16" height="37.14" fill="#c9c9e6"/>
<rect x="534.93" y="468.02" width="20.16" height="37.14" fill="#c9c9e6"/>
<rect x="555.09" y="468.02" width="20.16" height="37.14" fill="#c9c9e6"/>
<rect x="575.25" y="468.02" width="20.16" height="37.14" fill="#c9c9e6"/>
<rect x="595.41" y="468.02" width="20.16" height="37.14" fill="#d8d8ed"/>
<rect x="615.57" y="468.02" width="20.16" height="37.14" fill="#c9c9e6"/>
<rect x="635.72" y="468.02" width="20.16" height="37.14" fill="#bcbce0"/>
<rect x="655.88" y="468.02" width="20.16" height="37.14" fill="#d8d8ed"/>
<rect x="676.04" y="468.02" width="20.16" height="37.14" fill="#bcbce0"/>
<rect x="696.20" y="468.02" width="20.16" height="37.14" fill="#bcbce0"/>
<rect x="716.36" y="468.02" width="20.16" height="37.14" fill="#ff7a75"/>
<rect x="736.51" y="468.02" width="20.16" height="37.14" fill="#ff7a75"/>
<rect x="756.67" y="468.02" width="20.16" height="37.14" fill="#ff928e"/>
<rect x="776.83" y="468.02" width="20.16" height="37.14" fill="#ff928e"/>
<rect x="796.99" y="468.02" width="20.16" height="37.14" fill="#ffaaa6"/>
<rect x="817.15" y="468.02" width="20.16" height="37.14" fill="#ff928e"/>
<rect x="837.30" y="468.02" width="20.16" height="37.14" fill="#ffc1be"/>
<rect x="857.46" y="468.02" width="20.16" height="37.14" fill="#ffaaa6"/>
<rect x="877.62" y="468.02" width="20.16" height="37.14" fill="#ffaaa6"/>
<rect x="897.78" y="468.02" width="20.16" height="37.14" fill="#ffaaa6"/>
<rect x="917.94" y="468.02" width="20.16" height="37.14" fill="#fff5f3"/>
<rect x="938.10" y="468.02" width="20.16" height="37.14" fill="#c9c9e6"/>
<rect x="958.25" y="468.02" width="20.16" height="37.14" fill="#e9e9f6"/>
<rect x="978.41" y="468.02" width="20.16" height="37.14" fill="#f4f4fb"/>
<rect x="998.57" y="468.02" width="20.16" height="37.14" fill="#e9e9f6"/>
<rect x="1018.73" y="468.02" width="20.16" height="37.14" fill="#fcfbfc"/>
<rect x="1038.89" y="468.02" width="20.16" height="37.14" fill="#ffd6d4"/>
<rect x="1059.04" y="468.02" width="20.16" height="37.14" fill="#ffc1be"/>
<rect x="1079.20" y="468.02" width="20.16" height="37.14" fill="#ffd6d4"/>
<rect x="1099.36" y="468.02" width="20.16" height="37.14" fill="#ffeae8"/>
<rect x="1119.52" y="468.02" width="20.16" height="37.14" fill="#ff7a75"/>
<rect x="1139.68" y="468.02" width="20.16" height="37.14" fill="#ffeae8"/>
<rect x="1159.83" y="468.02" width="20.16" height="37.14" fill="#fcfbfc"/>
<rect x="1179.99" y="468.02" width="20.16" height="37.14" fill="#ffc1be"/>
<rect x="1200.15" y="468.02" width="20.16" height="37.14" fill="#ffaaa6"/>
<rect x="1220.31" y="468.02" width="20.16" height="37.14" fill="#d8d8ed"/>
<rect x="1240.47" y="468.02" width="20.16" height="37.14" fill="#ffd6d4"/>
<rect x="1260.62" y="468.02" width="20.16" height="37.14" fill="#e9e9f6"/>
<rect x="1280.78" y="468.02" width="20.16" height="37.14" fill="#e9e9f6"/>
<rect x="1300.94" y="468.02" width="20.16" height="37.14" fill="#c9c9e6"/>
<rect x="1321.10" y="468.02" width="20.16" height="37.14" fill="#fd635e"/>
<rect x="1341.26" y="468.02" width="20.16" height="37.14" fill="#fa2621"/>
<rect x="1361.41" y="468.02" width="20.16" height="37.14" fill="#fd635e"/>
<rect x="1381.57" y="468.02" width="20.16" height="37.14" fill="#f4f4fb"/>
<rect x="1401.73" y="468.02" width="20.16" height="37.14" fill="#f4f4fb"/>
<rect x="1421.89" y="468.02" width="20.16" height="37.14" fill="#d8d8ed"/>
<rect x="1442.05" y="468.02" width="20.16" height="37.14" fill="#d8d8ed"/>
<rect x="1462.20" y="468.02" width="20.16" height="37.14" fill="#d8d8ed"/>
<rect x="1482.36" y="468.02" width="20.16" height="37.14" fill="#d8d8ed"/>
<rect x="1502.52" y="468.02" width="20.16" height="37.14" fill="#d8d8ed"/>
<rect x="1522.68" y="468.02" width="20.16" height="37.14" fill="#d8d8ed"/>
<rect x="1542.84" y="468.02" width="20.16" height="37.14" fill="#c9c9e6"/>
<rect x="1562.99" y="468.02" width="20.16" height="37.14" fill="#f4f4fb"/>
<rect x="1583.15" y="468.02" width="20.16" height="37.14" fill="#e9e9f6"/>
<rect x="1603.31" y="468.02" width="20.16" height="37.14" fill="#e9e9f6"/>
<rect x="1623.47" y="468.02" width="20.16" height="37.14" fill="#e9e9f6"/>
<rect x="1643.63" y="468.02" width="20.16" height="37.14" fill="#e9e9f6"/>
<rect x="1663.78" y="468.02" width="20.16" height="37.14" fill="#e9e9f6"/>
<rect x="1683.94" y="468.02" width="20.16" height="37.14" fill="#c9c9e6"/>
<rect x="71.30" y="505.17" width="20.16" height="37.14" fill="#d8d8ed"/>
<rect x="91.46" y="505.17" width="20.16" height="37.14" fill="#adadd8"/>
<rect x="111.62" y="505.17" width="20.16" height="37.14" fill="#adadd8"/>
<rect x="131.77" y="505.17" width="20.16" height="37.14" fill="#bcbce0"/>
<rect x="151.93" y="505.17" width="20.16" height="37.14" fill="#bcbce0"/>
<rect x="172.09" y="505.17" width="20.16" height="37.14" fill="#bcbce0"/>
<rect x="192.25" y="505.17" width="20.16" height="37.14" fill="#bcbce0"/>
<rect x="212.41" y="505.17" width="20.16" height="37.14" fill="#adadd8"/>
<rect x="232.56" y="505.17" width="20.16" height="37.14" fill="#bcbce0"/>
<rect x="252.72" y="505.17" width="20.16" height="37.14" fill="#bcbce0"/>
<rect x="272.88" y="505.17" width="20.16" height="37.14" fill="#bcbce0"/>
<rect x="293.04" y="505.17" width="20.16" height="37.14" fill="#bcbce0"/>
<rect x="313.20" y="505.17" width="20.16" height="37.14" fill="#9c9cd0"/>
<rect x="333.35" y="505.17" width="20.16" height="37.14" fill="#bcbce0"/>
<rect x="353.51" y="505.17" width="20.16" height="37.14" fill="#bcbce0"/>
<rect x="373.67" y="505.17" width="20.16" height="37.14" fill="#bcbce0"/>
<rect x="393.83" y="505.17" width="20.16" height="37.14" fill="#bcbce0"/>
<rect x="413.99" y="505.17" width="20.16" height="37.14" fill="#d8d8ed"/>
<rect x="434.14" y="505.17" width="20.16" height="37.14" fill="#adadd8"/>
<rect x="454.30" y="505.17" width="20.16" height="37.14" fill="#bcbce0"/>
<rect x="474.46" y="505.17" width="20.16" height="37.14" fill="#adadd8"/>
<rect x="494.62" y="505.17" width="20.16" height="37.14" fill="#bcbce0"/>
<rect x="514.78" y="505.17" width="20.16" height="37.14" fill="#bcbce0"/>
<rect x="534.93" y="505.17" width="20.16" height="37.14" fill="#adadd8"/>
<rect x="555.09" y="505.17" width="20.16" height="37.14" fill="#c9c9e6"/>
<rect x="575.25" y="505.17" width="20.16" height="37.14" fill="#bcbce0"/>
<rect x="595.41" y="505.17" width="20.16" height="37.14" fill="#bcbce0"/>
<rect x="615.57" y="505.17" width="20.16" height="37.14" fill="#bcbce0"/>
<rect x="635.72" y="505.17" width="20.16" height="37.14" fill="#bcbce0"/>
<rect x="655.88" y="505.17" width="20.16" height="37.14" fill="#adadd8"/>
<rect x="676.04" y="505.17" width="20.16" height="37.14" fill="#bcbce0"/>
<rect x="696.20" y="505.17" width="20.16" height="37.14" fill="#c9c9e6"/>
<rect x="716.36" y="505.17" width="20.16" height="37.14" fill="#fa4c48"/>
<rect x="736.51" y="505.17" width="20.16" height="37.14" fill="#f83835"/>
<rect x="756.67" y="505.17" width="20.16" height="37.14" fill="#fa2621"/>
<rect x="776.83" y="505.17" width="20.16" height="37.14" fill="#fa2621"/>
<rect x="796.99" y="505.17" width="20.16" height="37.14" fill="#fa2621"/>
<rect x="817.15" y="505.17" width="20.16" height="37.14" fill="#fa2621"/>
<rect x="837.30" y="505.17" width="20.16" height="37.14" fill="#f83835"/>
<rect x="857.46" y="505.17" width="20.16" height="37.14" fill="#fa4c48"/>
<rect x="877.62" y="505.17" width="20.16" height="37.14" fill="#f83835"/>
<rect x="897.78" y="505.17" width="20.16" height="37.14" fill="#f83835"/>
<rect x="917.94" y="505.17" width="20.16" height="37.14" fill="#f83835"/>
<rect x="938.10" y="505.17" width="20.16" height="37.14" fill="#ff240c"/>
<rect x="958.25" y="505.17" width="20.16" height="37.14" fill="#ff240c"/>
<rect x="978.41" y="505.17" width="20.16" height="37.14" fill="#ff240c"/>
<rect x="998.57" y="505.17" width="20.16" height="37.14" fill="#ff240c"/>
<rect x="1018.73" y="505.17" width="20.16" height="37.14" fill="#ff240c"/>
<rect x="1038.89" y="505.17" width="20.16" height="37.14" fill="#ff240c"/>
<rect x="1059.04" y="505.17" width="20.16" height="37.14" fill="#ff240c"/>
<rect x="1079.20" y="505.17" width="20.16" height="37.14" fill="#ff240c"/>
<rect x="1099.36" y="505.17" width="20.16" height="37.14" fill="#ff240c"/>
<rect x="1119.52" y="505.17" width="20.16" height="37.14" fill="#bcbce0"/>
<rect x="1139.68" y="505.17" width="20.16" height="37.14" fill="#c9c9e6"/>
<rect x="1159.83" y="505.17" width="20.16" height="37.14" fill="#c9c9e6"/>
<rect x="1179.99" y="505.17" width="20.16" height="37.14" fill="#ff7a75"/>
<rect x="1200.15" y="505.17" width="20.16" height="37.14" fill="#ffd6d4"/>
<rect x="1220.31" y="505.17" width="20.16" height="37.14" fill="#bcbce0"/>
<rect x="1240.47" y="505.17" width="20.16" height="37.14" fill="#d8d8ed"/>
<rect x="1260.62" y="505.17" width="20.16" height="37.14" fill="#e9e9f6"/>
<rect x="1280.78" y="505.17" width="20.16" height="37.14" fill="#ffd6d4"/>
<rect x="1300.94" y="505.17" width="20.16" height="37.14" fill="#ffd6d4"/>
<rect x="1321.10" y="505.17" width="20.16" height="37.14" fill="#d8d8ed"/>
<rect x="1341.26" y="505.17" width="20.16" height="37.14" fill="#ffd6d4"/>
<rect x="1361.41" y="505.17" width="20.16" height="37.14" fill="#ff928e"/>
<rect x="1381.57" y="505.17" width="20.16" height="37.14" fill="#ff928e"/>
<rect x="1401.73" y="505.17" width="20.16" height="37.14" fill="#fa4c48"/>
<rect x="1421.89" y="505.17" width="20.16" height="37.14" fill="#c9c9e6"/>
<rect x="1442.05" y="505.17" width="20.16" height="37.14" fill="#e9e9f6"/>
<rect x="1462.20" y="505.17" width="20.16" height="37.14" fill="#d8d8ed"/>
<rect x="1482.36" y="505.17" width="20.16" height="37.14" fill="#c9c9e6"/>
<rect x="1502.52" y="505.17" width="20.16" height="37.14" fill="#bcbce0"/>
<rect x="1522.68" y="505.17" width="20.16" height="37.14" fill="#c9c9e6"/>
<rect x="1542.84" y="505.17" width="20.16" height="37.14" fill="#d8d8ed"/>
<rect x="1562.99" y="505.17" width="20.16" height="37.14" fill="#fff5f3"/>
<rect x="1583.15" y="505.17" width="20.16" height="37.14" fill="#ffd6d4"/>
<rect x="1603.31" y="505.17" width="20.16" height="37.14" fill="#d8d8ed"/>
<rect x="1623.47" y="505.17" width="20.16" height="37.14" fill="#d8d8ed"/>
<rect x="1643.63" y="505.17" width="20.16" height="37.14" fill="#d8d8ed"/>
<rect x="1663.78" y="505.17" width="20.16" height="37.14" fill="#f4f4fb"/>
<rect x="1683.94" y="505.17" width="20.16" height="37.14" fill="#f4f4fb"/>
<rect x="71.30" y="542.31" width="20.16" height="37.14" fill="#e9e9f6"/>
<rect x="91.46" y="542.31" width="20.16" height="37.14" fill="#bcbce0"/>
<rect x="111.62" y="542.31" width="20.16" height="37.14" fill="#c9c9e6"/>
<rect x="131.77" y="542.31" width="20.16" height="37.14" fill="#bcbce0"/>
<rect x="151.93" y="542.31" width="20.16" height="37.14" fill="#bcbce0"/>
<rect x="172.09" y="542.31" width="20.16" height="37.14" fill="#d8d8ed"/>
<rect x="192.25" y="542.31" width="20.16" height="37.14" fill="#bcbce0"/>
<rect x="212.41" y="542.31" width="20.16" height="37.14" fill="#adadd8"/>
<rect x="232.56" y="542.31" width="20.16" height="37.14" fill="#bcbce0"/>
<rect x="252.72" y="542.31" width="20.16" height="37.14" fill="#bcbce0"/>
<rect x="272.88" y="542.31" width="20.16" height="37.14" fill="#bcbce0"/>
<rect x="293.04" y="542.31" width="20.16" height="37.14" fill="#bcbce0"/>
<rect x="313.20" y="542.31" width="20.16" height="37.14" fill="#d8d8ed"/>
<rect x="333.35" y="542.31" width="20.16" height="37.14" fill="#9c9cd0"/>
<rect x="353.51" y="542.31" width="20.16" height="37.14" fill="#c9c9e6"/>
<rect x="373.67" y="542.31" width="20.16" height="37.14" fill="#e9e9f6"/>
<rect x="393.83" y="542.31" width="20.16" height="37.14" fill="#bcbce0"/>
<rect x="413.99" y="542.31" width="20.16" height="37.14" fill="#bcbce0"/>
<rect x="434.14" y="542.31" width="20.16" height="37.14" fill="#bcbce0"/>
<rect x="454.30" y="542.31" width="20.16" height="37.14" fill="#bcbce0"/>
<rect x="474.46" y="542.31" width="20.16" height="37.14" fill="#adadd8"/>
<rect x="494.62" y="542.31" width="20.16" height="37.14" fill="#bcbce0"/>
<rect x="514.78" y="542.31" width="20.16" height="37.14" fill="#d8d8ed"/>
<rect x="534.93" y="542.31" width="20.16" height="37.14" fill="#c9c9e6"/>
<rect x="555.09" y="542.31" width="20.16" height="37.14" fill="#c9c9e6"/>
<rect x="575.25" y="542.31" width="20.16" height="37.14" fill="#c9c9e6"/>
<rect x="595.41" y="542.31" width="20.16" height="37.14" fill="#adadd8"/>
<rect x="615.57" y="542.31" width="20.16" height="37.14" fill="#bcbce0"/>
<rect x="635.72" y="542.31" width="20.16" height="37.14" fill="#c9c9e6"/>
<rect x="655.88" y="542.31" width="20.16" height="37.14" fill="#bcbce0"/>
<rect x="676.04" y="542.31" width="20.16" height="37.14" fill="#c9c9e6"/>
<rect x="696.20" y="542.31" width="20.16" height="37.14" fill="#c9c9e6"/>
<rect x="716.36" y="542.31" width="20.16" height="37.14" fill="#f4f4fb"/>
<rect x="736.51" y="542.31" width="20.16" height="37.14" fill="#d8d8ed"/>
<rect x="756.67" y="542.31" width="20.16" height="37.14" fill="#c9c9e6"/>
<rect x="776.83" y="542.31" width="20.16" height="37.14" fill="#c9c9e6"/>
<rect x="796.99" y="542.31" width="20.16" height="37.14" fill="#e9e9f6"/>
<rect x="817.15" y="542.31" width="20.16" height="37.14" fill="#c9c9e6"/>
<rect x="837.30" y="542.31" width="20.16" height="37.14" fill="#fcfbfc"/>
<rect x="857.46" y="542.31" width="20.16" height="37.14" fill="#fcfbfc"/>
<rect x="877.62" y="542.31" width="20.16" height="37.14" fill="#d8d8ed"/>
<rect x="897.78" y="542.31" width="20.16" height="37.14" fill="#e9e9f6"/>
<rect x="917.94" y="542.31" width="20.16" height="37.14" fill="#ffeae8"/>
<rect x="938.10" y="542.31" width="20.16" height="37.14" fill="#fcfbfc"/>
<rect x="958.25" y="542.31" width="20.16" height="37.14" fill="#c9c9e6"/>
<rect x="978.41" y="542.31" width="20.16" height="37.14" fill="#e9e9f6"/>
<rect x="998.57" y="542.31" width="20.16" height="37.14" fill="#e9e9f6"/>
<rect x="1018.73" y="542.31" width="20.16" height="37.14" fill="#bcbce0"/>
<rect x="1038.89" y="542.31" width="20.16" height="37.14" fill="#fcfbfc"/>
<rect x="1059.04" y="542.31" width="20.16" height="37.14" fill="#c9c9e6"/>
<rect x="1079.20" y="542.31" width="20.16" height="37.14" fill="#fcfbfc"/>
<rect x="1099.36" y="542.31" width="20.16" height="37.14" fill="#d8d8ed"/>
<rect x="1119.52" y="542.31" width="20.16" height="37.14" fill="#e9e9f6"/>
<rect x="1139.68" y="542.31" width="20.16" height="37.14" fill="#fff5f3"/>
<rect x="1159.83" y="542.31" width="20.16" height="37.14" fill="#ffc1be"/>
<rect x="1179.99" y="542.31" width="20.16" height="37.14" fill="#bcbce0"/>
<rect x="1200.15" y="542.31" width="20.16" height="37.14" fill="#adadd8"/>
<rect x="1220.31" y="542.31" width="20.16" height="37.14" fill="#fa4c48"/>
<rect x="1240.47" y="542.31" width="20.16" height="37.14" fill="#fa4c48"/>
<rect x="1260.62" y="542.31" width="20.16" height="37.14" fill="#fd635e"/>
<rect x="1280.78" y="542.31" width="20.16" height="37.14" fill="#fa2621"/>
<rect x="1300.94" y="542.31" width="20.16" height="37.14" fill="#f83835"/>
<rect x="1321.10" y="542.31" width="20.16" height="37.14" fill="#c9c9e6"/>
<rect x="1341.26" y="542.31" width="20.16" height="37.14" fill="#fcfbfc"/>
<rect x="1361.41" y="542.31" width="20.16" height="37.14" fill="#d8d8ed"/>
<rect x="1381.57" y="542.31" width="20.16" height="37.14" fill="#adadd8"/>
<rect x="1401.73" y="542.31" width="20.16" height="37.14" fill="#c9c9e6"/>
<rect x="1421.89" y="542.31" width="20.16" height="37.14" fill="#c9c9e6"/>
<rect x="1442.05" y="542.31" width="20.16" height="37.14" fill="#ffd6d4"/>
<rect x="1462.20" y="542.31" width="20.16" height="37.14" fill="#ffd6d4"/>
<rect x="1482.36" y="542.31" width="20.16" height="37.14" fill="#ffd6d4"/>
<rect x="1502.52" y="542.31" width="20.16" height="37.14" fill="#ffaaa6"/>
<rect x="1522.68" y="542.31" width="20.16" height="37.14" fill="#ffc1be"/>
<rect x="1542.84" y="542.31" width="20.16" height="37.14" fill="#ffaaa6"/>
<rect x="1562.99" y="542.31" width="20.16" height="37.14" fill="#d8d8ed"/>
<rect x="1583.15" y="542.31" width="20.16" height="37.14" fill="#c9c9e6"/>
<rect x="1603.31" y="542.31" width="20.16" height="37.14" fill="#fcfbfc"/>
<rect x="1623.47" y="542.31" width="20.16" height="37.14" fill="#e9e9f6"/>
<rect x="1643.63" y="542.31" width="20.16" height="37.14" fill="#d8d8ed"/>
<rect x="1663.78" y="542.31" width="20.16" height="37.14" fill="#d8d8ed"/>
<rect x="1683.94" y="542.31" width="20.16" height="37.14" fill="#d8d8ed"/>
<rect x="71.30" y="579.46" width="20.16" height="37.14" fill="#c9c9e6"/>
<rect x="91.46" y="579.46" width="20.16" height="37.14" fill="#c9c9e6"/>
<rect x="111.62" y="579.46" width="20.16" height="37.14" fill="#bcbce0"/>
<rect x="131.77" y="579.46" width="20.16" height="37.14" fill="#e9e9f6"/>
<rect x="151.93" y="579.46" width="20.16" height="37.14" fill="#e9e9f6"/>
<rect x="172.09" y="579.46" width="20.16" height="37.14" fill="#bcbce0"/>
<rect x="192.25" y="579.46" width="20.16" height="37.14" fill="#bcbce0"/>
<rect x="212.41" y="579.46" width="20.16" height="37.14" fill="#bcbce0"/>
<rect x="232.56" y="579.46" width="20.16" height="37.14" fill="#bcbce0"/>
<rect x="252.72" y="579.46" width="20.16" height="37.14" fill="#bcbce0"/>
<rect x="272.88" y="579.46" width="20.16" height="37.14" fill="#bcbce0"/>
<rect x="293.04" y="579.46" width="20.16" height="37.14" fill="#bcbce0"/>
<rect x="313.20" y="579.46" width="20.16" height="37.14" fill="#fff5f3"/>
<rect x="333.35" y="579.46" width="20.16" height="37.14" fill="#fff5f3"/>
<rect x="353.51" y="579.46" width="20.16" height="37.14" fill="#bcbce0"/>
<rect x="373.67" y="579.46" width="20.16" height="37.14" fill="#d8d8ed"/>
<rect x="393.83" y="579.46" width="20.16" height="37.14" fill="#c9c9e6"/>
<rect x="413.99" y="579.46" width="20.16" height="37.14" fill="#e9e9f6"/>
<rect x="434.14" y="579.46" width="20.16" height="37.14" fill="#c9c9e6"/>
<rect x="454.30" y="579.46" width="20.16" height="37.14" fill="#adadd8"/>
<rect x="474.46" y="579.46" width="20.16" height="37.14" fill="#c9c9e6"/>
<rect x="494.62" y="579.46" width="20.16" height="37.14" fill="#d8d8ed"/>
<rect x="514.78" y="579.46" width="20.16" height="37.14" fill="#bcbce0"/>
<rect x="534.93" y="579.46" width="20.16" height="37.14" fill="#c9c9e6"/>
<rect x="555.09" y="579.46" width="20.16" height="37.14" fill="#c9c9e6"/>
<rect x="575.25" y="579.46" width="20.16" height="37.14" fill="#c9c9e6"/>
<rect x="595.41" y="579.46" width="20.16" height="37.14" fill="#adadd8"/>
<rect x="615.57" y="579.46" width="20.16" height="37.14" fill="#c9c9e6"/>
<rect x="635.72" y="579.46" width="20.16" height="37.14" fill="#d8d8ed"/>
<rect x="655.88" y="579.46" width="20.16" height="37.14" fill="#adadd8"/>
<rect x="676.04" y="579.46" width="20.16" height="37.14" fill="#c9c9e6"/>
<rect x="696.20" y="579.46" width="20.16" height="37.14" fill="#c9c9e6"/>
<rect x="716.36" y="579.46" width="20.16" height="37.14" fill="#bcbce0"/>
<rect x="736.51" y="579.46" width="20.16" height="37.14" fill="#c9c9e6"/>
<rect x="756.67" y="579.46" width="20.16" height="37.14" fill="#c9c9e6"/>
<rect x="776.83" y="579.46" width="20.16" height="37.14" fill="#bcbce0"/>
<rect x="796.99" y="579.46" width="20.16" height="37.14" fill="#c9c9e6"/>
<rect x="817.15" y="579.46" width="20.16" height="37.14" fill="#d8d8ed"/>
<rect x="837.30" y="579.46" width="20.16" height="37.14" fill="#fff5f3"/>
<rect x="857.46" y="579.46" width="20.16" height="37.14" fill="#bcbce0"/>
<rect x="877.62" y="579.46" width="20.16" height="37.14" fill="#bcbce0"/>
<rect x="897.78" y="579.46" width="20.16" height="37.14" fill="#bcbce0"/>
<rect x="917.94" y="579.46" width="20.16" height="37.14" fill="#ff928e"/>
<rect x="938.10" y="579.46" width="20.16" height="37.14" fill="#ffc1be"/>
<rect x="958.25" y="579.46" width="20.16" height="37.14" fill="#bcbce0"/>
<rect x="978.41" y="579.46" width="20.16" height="37.14" fill="#d8d8ed"/>
<rect x="998.57" y="579.46" width="20.16" height="37.14" fill="#d8d8ed"/>
<rect x="1018.73" y="579.46" width="20.16" height="37.14" fill="#d8d8ed"/>
<rect x="1038.89" y="579.46" width="20.16" height="37.14" fill="#c9c9e6"/>
<rect x="1059.04" y="579.46" width="20.16" height="37.14" fill="#f4f4fb"/>
<rect x="1079.20" y="579.46" width="20.16" height="37.14" fill="#e9e9f6"/>
<rect x="1099.36" y="579.46" width="20.16" height="37.14" fill="#e9e9f6"/>
<rect x="1119.52" y="579.46" width="20.16" height="37.14" fill="#ffc1be"/>
<rect x="1139.68" y="579.46" width="20.16" height="37.14" fill="#ffaaa6"/>
<rect x="1159.83" y="579.46" width="20.16" height="37.14" fill="#fcfbfc"/>
<rect x="1179.99" y="579.46" width="20.16" height="37.14" fill="#d8d8ed"/>
<rect x="1200.15" y="579.46" width="20.16" height="37.14" fill="#e9e9f6"/>
<rect x="1220.31" y="579.46" width="20.16" height="37.14" fill="#ffaaa6"/>
<rect x="1240.47" y="579.46" width="20.16" height="37.14" fill="#e9e9f6"/>
<rect x="1260.62" y="579.46" width="20.16" height="37.14" fill="#fd635e"/>
<rect x="1280.78" y="579.46" width="20.16" height="37.14" fill="#ffc1be"/>
<rect x="1300.94" y="579.46" width="20.16" height="37.14" fill="#ffaaa6"/>
<rect x="1321.10" y="579.46" width="20.16" height="37.14" fill="#f83835"/>
<rect x="1341.26" y="579.46" width="20.16" height="37.14" fill="#ffc1be"/>
<rect x="1361.41" y="579.46" width="20.16" height="37.14" fill="#ff928e"/>
<rect x="1381.57" y="579.46" width="20.16" height="37.14" fill="#fd635e"/>
<rect x="1401.73" y="579.46" width="20.16" height="37.14" fill="#fd635e"/>
<rect x="1421.89" y="579.46" width="20.16" height="37.14" fill="#f83835"/>
<rect x="1442.05" y="579.46" width="20.16" height="37.14" fill="#fa2621"/>
<rect x="1462.20" y="579.46" width="20.16" height="37.14" fill="#fa2621"/>
<rect x="1482.36" y="579.46" width="20.16" height="37.14" fill="#fa2621"/>
<rect x="1502.52" y="579.46" width="20.16" height="37.14" fill="#fa2621"/>
<rect x="1522.68" y="579.46" width="20.16" height="37.14" fill="#fa2621"/>
<rect x="1542.84" y="579.46" width="20.16" height="37.14" fill="#fa2621"/>
<rect x="1562.99" y="579.46" width="20.16" height="37.14" fill="#ff240c"/>
<rect x="1583.15" y="579.46" width="20.16" height="37.14" fill="#ff240c"/>
<rect x="1603.31" y="579.46" width="20.16" height="37.14" fill="#ff240c"/>
<rect x="1623.47" y="579.46" width="20.16" height="37.14" fill="#ff240c"/>
<rect x="1643.63" y="579.46" width="20.16" height="37.14" fill="#ff240c"/>
<rect x="1663.78" y="579.46" width="20.16" height="37.14" fill="#ff240c"/>
<rect x="1683.94" y="579.46" width="20.16" height="37.14" fill="#ff240c"/>
<path d="M71.30 282.30V616.60M91.46 282.30V616.60M111.62 282.30V616.60M131.77 282.30V616.60M151.93 282.30V616.60M172.09 282.30V616.60M192.25 282.30V616.60M212.41 282.30V616.60M232.56 282.30V616.60M252.72 282.30V616.60M272.88 282.30V616.60M293.04 282.30V616.60M313.20 282.30V616.60M333.35 282.30V616.60M353.51 282.30V616.60M373.67 282.30V616.60M393.83 282.30V616.60M413.99 282.30V616.60M434.14 282.30V616.60M454.30 282.30V616.60M474.46 282.30V616.60M494.62 282.30V616.60M514.78 282.30V616.60M534.93 282.30V616.60M555.09 282.30V616.60M575.25 282.30V616.60M595.41 282.30V616.60M615.57 282.30V616.60M635.72 282.30V616.60M655.88 282.30V616.60M676.04 282.30V616.60M696.20 282.30V616.60M716.36 282.30V616.60M736.51 282.30V616.60M756.67 282.30V616.60M776.83 282.30V616.60M796.99 282.30V616.60M817.15 282.30V616.60M837.30 282.30V616.60M857.46 282.30V616.60M877.62 282.30V616.60M897.78 282.30V616.60M917.94 282.30V616.60M938.10 282.30V616.60M958.25 282.30V616.60M978.41 282.30V616.60M998.57 282.30V616.60M1018.73 282.30V616.60M1038.89 282.30V616.60M1059.04 282.30V616.60M1079.20 282.30V616.60M1099.36 282.30V616.60M1119.52 282.30V616.60M1139.68 282.30V616.60M1159.83 282.30V616.60M1179.99 282.30V616.60M1200.15 282.30V616.60M1220.31 282.30V616.60M1240.47 282.30V616.60M1260.62 282.30V616.60M1280.78 282.30V616.60M1300.94 282.30V616.60M1321.10 282.30V616.60M1341.26 282.30V616.60M1361.41 282.30V616.60M1381.57 282.30V616.60M1401.73 282.30V616.60M1421.89 282.30V616.60M1442.05 282.30V616.60M1462.20 282.30V616.60M1482.36 282.30V616.60M1502.52 282.30V616.60M1522.68 282.30V616.60M1542.84 282.30V616.60M1562.99 282.30V616.60M1583.15 282.30V616.60M1603.31 282.30V616.60M1623.47 282.30V616.60M1643.63 282.30V616.60M1663.78 282.30V616.60M1683.94 282.30V616.60M1704.10 282.30V616.60M71.30 282.30H1704.10M71.30 319.44H1704.10M71.30 356.59H1704.10M71.30 393.73H1704.10M71.30 430.88H1704.10M71.30 468.02H1704.10M71.30 505.17H1704.10M71.30 542.31H1704.10M71.30 579.46H1704.10M71.30 616.60H1704.10" stroke="#9a9a9a" stroke-width="1.3" fill="none"/>
<text transform="translate(89.1,276.9) rotate(-90) scale(1,1.100)" font-size="18.5">RGMA</text>
<text transform="translate(109.2,276.9) rotate(-90) scale(1,1.100)" font-size="18.5">GGT6</text>
<text transform="translate(129.4,276.9) rotate(-90) scale(1,1.100)" font-size="18.5">KRT78</text>
<text transform="translate(149.6,276.9) rotate(-90) scale(1,1.100)" font-size="18.5">PPL</text>
<text transform="translate(169.7,276.9) rotate(-90) scale(1,1.100)" font-size="18.5">EVPL</text>
<text transform="translate(189.9,276.9) rotate(-90) scale(1,1.100)" font-size="18.5">NUCB2</text>
<text transform="translate(210.0,276.9) rotate(-90) scale(1,1.100)" font-size="18.5">HPGD</text>
<text transform="translate(230.2,276.9) rotate(-90) scale(1,1.100)" font-size="18.5">ATP13A4</text>
<text transform="translate(250.3,276.9) rotate(-90) scale(1,1.100)" font-size="18.5">BNIPL</text>
<text transform="translate(270.5,276.9) rotate(-90) scale(1,1.100)" font-size="18.5">EPHX2</text>
<text transform="translate(290.7,276.9) rotate(-90) scale(1,1.100)" font-size="18.5">ENDOU</text>
<text transform="translate(310.8,276.9) rotate(-90) scale(1,1.100)" font-size="18.5">ANKRD35</text>
<text transform="translate(331.0,276.9) rotate(-90) scale(1,1.100)" font-size="18.5">NDRG2</text>
<text transform="translate(351.1,276.9) rotate(-90) scale(1,1.100)" font-size="18.5">NEBL</text>
<text transform="translate(371.3,276.9) rotate(-90) scale(1,1.100)" font-size="18.5">SPINK7</text>
<text transform="translate(391.4,276.9) rotate(-90) scale(1,1.100)" font-size="18.5">TACC2</text>
<text transform="translate(411.6,276.9) rotate(-90) scale(1,1.100)" font-size="18.5">VSIG10L</text>
<text transform="translate(431.8,276.9) rotate(-90) scale(1,1.100)" font-size="18.5">EPHB6</text>
<text transform="translate(451.9,276.9) rotate(-90) scale(1,1.100)" font-size="18.5">RAPGEFL1</text>
<text transform="translate(472.1,276.9) rotate(-90) scale(1,1.100)" font-size="18.5">ALOX12</text>
<text transform="translate(492.2,276.9) rotate(-90) scale(1,1.100)" font-size="18.5">HOPX</text>
<text transform="translate(512.4,276.9) rotate(-90) scale(1,1.100)" font-size="18.5">ELF5</text>
<text transform="translate(532.6,276.9) rotate(-90) scale(1,1.100)" font-size="18.5">TP53INP2</text>
<text transform="translate(552.7,276.9) rotate(-90) scale(1,1.100)" font-size="18.5">SH3BGRL2</text>
<text transform="translate(572.9,276.9) rotate(-90) scale(1,1.100)" font-size="18.5">CRNN</text>
<text transform="translate(593.0,276.9) rotate(-90) scale(1,1.100)" font-size="18.5">POF1B</text>
<text transform="translate(613.2,276.9) rotate(-90) scale(1,1.100)" font-size="18.5">ALDH1L1</text>
<text transform="translate(633.3,276.9) rotate(-90) scale(1,1.100)" font-size="18.5">SPINK5</text>
<text transform="translate(653.5,276.9) rotate(-90) scale(1,1.100)" font-size="18.5">SCNN1A</text>
<text transform="translate(673.7,276.9) rotate(-90) scale(1,1.100)" font-size="18.5">ARHGEF26</text>
<text transform="translate(693.8,276.9) rotate(-90) scale(1,1.100)" font-size="18.5">MEIS1</text>
<text transform="translate(714.0,276.9) rotate(-90) scale(1,1.100)" font-size="18.5">TMPRSS11D</text>
<text transform="translate(734.1,276.9) rotate(-90) scale(1,1.100)" font-size="18.5">MFAP2</text>
<text transform="translate(754.3,276.9) rotate(-90) scale(1,1.100)" font-size="18.5">COL5A1</text>
<text transform="translate(774.5,276.9) rotate(-90) scale(1,1.100)" font-size="18.5">ADAM12</text>
<text transform="translate(794.6,276.9) rotate(-90) scale(1,1.100)" font-size="18.5">THBS2</text>
<text transform="translate(814.8,276.9) rotate(-90) scale(1,1.100)" font-size="18.5">FN1</text>
<text transform="translate(834.9,276.9) rotate(-90) scale(1,1.100)" font-size="18.5">ADAMTS4</text>
<text transform="translate(855.1,276.9) rotate(-90) scale(1,1.100)" font-size="18.5">LRRC15</text>
<text transform="translate(875.2,276.9) rotate(-90) scale(1,1.100)" font-size="18.5">FAP</text>
<text transform="translate(895.4,276.9) rotate(-90) scale(1,1.100)" font-size="18.5">ADAMTS2</text>
<text transform="translate(915.6,276.9) rotate(-90) scale(1,1.100)" font-size="18.5">CTHRC1</text>
<text transform="translate(935.7,276.9) rotate(-90) scale(1,1.100)" font-size="18.5">PDPN</text>
<text transform="translate(955.9,276.9) rotate(-90) scale(1,1.100)" font-size="18.5">LAMC2</text>
<text transform="translate(976.0,276.9) rotate(-90) scale(1,1.100)" font-size="18.5">IL24</text>
<text transform="translate(996.2,276.9) rotate(-90) scale(1,1.100)" font-size="18.5">SERPINE1</text>
<text transform="translate(1016.3,276.9) rotate(-90) scale(1,1.100)" font-size="18.5">MMP13</text>
<text transform="translate(1036.5,276.9) rotate(-90) scale(1,1.100)" font-size="18.5">PTHLH</text>
<text transform="translate(1056.7,276.9) rotate(-90) scale(1,1.100)" font-size="18.5">ADAMTS12</text>
<text transform="translate(1076.8,276.9) rotate(-90) scale(1,1.100)" font-size="18.5">LOXL2</text>
<text transform="translate(1097.0,276.9) rotate(-90) scale(1,1.100)" font-size="18.5">PXDN</text>
<text transform="translate(1117.1,276.9) rotate(-90) scale(1,1.100)" font-size="18.5">INHBA</text>
<text transform="translate(1137.3,276.9) rotate(-90) scale(1,1.100)" font-size="18.5">GBP1</text>
<text transform="translate(1157.5,276.9) rotate(-90) scale(1,1.100)" font-size="18.5">ISG20</text>
<text transform="translate(1177.6,276.9) rotate(-90) scale(1,1.100)" font-size="18.5">BST2</text>
<text transform="translate(1197.8,276.9) rotate(-90) scale(1,1.100)" font-size="18.5">GREM1</text>
<text transform="translate(1217.9,276.9) rotate(-90) scale(1,1.100)" font-size="18.5">TNFRSF12A</text>
<text transform="translate(1238.1,276.9) rotate(-90) scale(1,1.100)" font-size="18.5">OASL</text>
<text transform="translate(1258.2,276.9) rotate(-90) scale(1,1.100)" font-size="18.5">IFI6</text>
<text transform="translate(1278.4,276.9) rotate(-90) scale(1,1.100)" font-size="18.5">OAS2</text>
<text transform="translate(1298.6,276.9) rotate(-90) scale(1,1.100)" font-size="18.5">SULF1</text>
<text transform="translate(1318.7,276.9) rotate(-90) scale(1,1.100)" font-size="18.5">HERC5</text>
<text transform="translate(1338.9,276.9) rotate(-90) scale(1,1.100)" font-size="18.5">GALNT6</text>
<text transform="translate(1359.0,276.9) rotate(-90) scale(1,1.100)" font-size="18.5">TGM2</text>
<text transform="translate(1379.2,276.9) rotate(-90) scale(1,1.100)" font-size="18.5">ADAM19</text>
<text transform="translate(1399.4,276.9) rotate(-90) scale(1,1.100)" font-size="18.5">IGF2BP2</text>
<text transform="translate(1419.5,276.9) rotate(-90) scale(1,1.100)" font-size="18.5">PLAU</text>
<text transform="translate(1439.7,276.9) rotate(-90) scale(1,1.100)" font-size="18.5">CD274</text>
<text transform="translate(1459.8,276.9) rotate(-90) scale(1,1.100)" font-size="18.5">RSAD2</text>
<text transform="translate(1480.0,276.9) rotate(-90) scale(1,1.100)" font-size="18.5">CMPK2</text>
<text transform="translate(1500.1,276.9) rotate(-90) scale(1,1.100)" font-size="18.5">ISG15</text>
<text transform="translate(1520.3,276.9) rotate(-90) scale(1,1.100)" font-size="18.5">DDX60</text>
<text transform="translate(1540.5,276.9) rotate(-90) scale(1,1.100)" font-size="18.5">IRF7</text>
<text transform="translate(1560.6,276.9) rotate(-90) scale(1,1.100)" font-size="18.5">EPSTI1</text>
<text transform="translate(1580.8,276.9) rotate(-90) scale(1,1.100)" font-size="18.5">CCR1</text>
<text transform="translate(1600.9,276.9) rotate(-90) scale(1,1.100)" font-size="18.5">LCP2</text>
<text transform="translate(1621.1,276.9) rotate(-90) scale(1,1.100)" font-size="18.5">CHI3L1</text>
<text transform="translate(1641.2,276.9) rotate(-90) scale(1,1.100)" font-size="18.5">IFIT2</text>
<text transform="translate(1661.4,276.9) rotate(-90) scale(1,1.100)" font-size="18.5">SLC15A3</text>
<text transform="translate(1681.6,276.9) rotate(-90) scale(1,1.100)" font-size="18.5">PLAUR</text>
<text transform="translate(1701.7,276.9) rotate(-90) scale(1,1.100)" font-size="18.5">ADAM8</text>
<text transform="translate(1710.2,308.3) scale(1.013,1)" font-size="19.8">23927</text>
<text transform="translate(1710.2,345.4) scale(1.013,1)" font-size="19.8">24235</text>
<text transform="translate(1710.2,382.6) scale(1.013,1)" font-size="19.8">23962</text>
<text transform="translate(1710.2,419.7) scale(1.013,1)" font-size="19.8">7741</text>
<text transform="translate(1710.2,456.9) scale(1.013,1)" font-size="19.8">23263</text>
<text transform="translate(1710.2,494.0) scale(1.013,1)" font-size="19.8">24147</text>
<text transform="translate(1710.2,531.1) scale(1.013,1)" font-size="19.8">9895</text>
<text transform="translate(1710.2,568.3) scale(1.013,1)" font-size="19.8">28139</text>
<text transform="translate(1710.2,605.4) scale(1.013,1)" font-size="19.8">19791</text>
<path d="M141.9 616.6L141.9 617.3M162.0 616.6L162.0 617.3M141.9 617.3L162.0 617.3M121.7 616.6L121.7 618.0M151.9 617.3L151.9 618.0M121.7 618.0L151.9 618.0M101.5 616.6L101.5 619.1M136.8 618.0L136.8 619.1M101.5 619.1L136.8 619.1M222.5 616.6L222.5 617.1M242.6 616.6L242.6 617.1M222.5 617.1L242.6 617.1M283.0 616.6L283.0 617.0M303.1 616.6L303.1 617.0M283.0 617.0L303.1 617.0M262.8 616.6L262.8 617.4M293.0 617.0L293.0 617.4M262.8 617.4L293.0 617.4M232.6 617.1L232.6 617.5M277.9 617.4L277.9 617.5M232.6 617.5L277.9 617.5M202.3 616.6L202.3 617.9M255.2 617.5L255.2 617.9M202.3 617.9L255.2 617.9M323.3 616.6L323.3 617.9M343.4 616.6L343.4 617.9M323.3 617.9L343.4 617.9M228.8 617.9L228.8 620.8M333.4 617.9L333.4 620.8M228.8 620.8L333.4 620.8M182.2 616.6L182.2 623.4M281.1 620.8L281.1 623.4M182.2 623.4L281.1 623.4M119.2 619.1L119.2 625.0M231.6 623.4L231.6 625.0M119.2 625.0L231.6 625.0M363.6 616.6L363.6 617.5M383.7 616.6L383.7 617.5M363.6 617.5L383.7 617.5M403.9 616.6L403.9 617.5M424.1 616.6L424.1 617.5M403.9 617.5L424.1 617.5M464.4 616.6L464.4 617.2M484.5 616.6L484.5 617.2M464.4 617.2L484.5 617.2M444.2 616.6L444.2 617.9M474.5 617.2L474.5 617.9M444.2 617.9L474.5 617.9M414.0 617.5L414.0 618.8M459.3 617.9L459.3 618.8M414.0 618.8L459.3 618.8M373.7 617.5L373.7 621.0M436.7 618.8L436.7 621.0M373.7 621.0L436.7 621.0M504.7 616.6L504.7 617.5M524.9 616.6L524.9 617.5M504.7 617.5L524.9 617.5M565.2 616.6L565.2 617.2M585.3 616.6L585.3 617.2M565.2 617.2L585.3 617.2M545.0 616.6L545.0 617.6M575.3 617.2L575.3 617.6M545.0 617.6L575.3 617.6M514.8 617.5L514.8 618.0M560.1 617.6L560.1 618.0M514.8 618.0L560.1 618.0M625.6 616.6L625.6 617.3M645.8 616.6L645.8 617.3M625.6 617.3L645.8 617.3M605.5 616.6L605.5 617.8M635.7 617.3L635.7 617.8M605.5 617.8L635.7 617.8M686.1 616.6L686.1 617.2M706.3 616.6L706.3 617.2M686.1 617.2L706.3 617.2M666.0 616.6L666.0 617.8M696.2 617.2L696.2 617.8M666.0 617.8L696.2 617.8M620.6 617.8L620.6 618.6M681.1 617.8L681.1 618.6M620.6 618.6L681.1 618.6M537.5 618.0L537.5 622.0M650.8 618.6L650.8 622.0M537.5 622.0L650.8 622.0M405.2 621.0L405.2 633.7M594.1 622.0L594.1 633.7M405.2 633.7L594.1 633.7M175.4 625.0L175.4 636.2M499.7 633.7L499.7 636.2M175.4 636.2L499.7 636.2M81.4 616.6L81.4 664.8M337.5 636.2L337.5 664.8M81.4 664.8L337.5 664.8M726.4 616.6L726.4 617.6M746.6 616.6L746.6 617.6M726.4 617.6L746.6 617.6M766.8 616.6L766.8 617.3M786.9 616.6L786.9 617.3M766.8 617.3L786.9 617.3M807.1 616.6L807.1 617.6M827.2 616.6L827.2 617.6M807.1 617.6L827.2 617.6M776.8 617.3L776.8 618.6M817.1 617.6L817.1 618.6M776.8 618.6L817.1 618.6M736.5 617.6L736.5 619.6M797.0 618.6L797.0 619.6M736.5 619.6L797.0 619.6M887.7 616.6L887.7 617.3M907.9 616.6L907.9 617.3M887.7 617.3L907.9 617.3M867.5 616.6L867.5 617.8M897.8 617.3L897.8 617.8M867.5 617.8L897.8 617.8M847.4 616.6L847.4 618.8M882.7 617.8L882.7 618.8M847.4 618.8L882.7 618.8M766.8 619.6L766.8 623.0M865.0 618.8L865.0 623.0M766.8 623.0L865.0 623.0M928.0 616.6L928.0 621.0M948.2 616.6L948.2 621.0M928.0 621.0L948.2 621.0M968.3 616.6L968.3 617.6M988.5 616.6L988.5 617.6M968.3 617.6L988.5 617.6M1008.6 616.6L1008.6 618.0M1028.8 616.6L1028.8 618.0M1008.6 618.0L1028.8 618.0M1089.3 616.6L1089.3 617.2M1109.4 616.6L1109.4 617.2M1089.3 617.2L1109.4 617.2M1069.1 616.6L1069.1 617.6M1099.4 617.2L1099.4 617.6M1069.1 617.6L1099.4 617.6M1049.0 616.6L1049.0 618.3M1084.2 617.6L1084.2 618.3M1049.0 618.3L1084.2 618.3M1018.7 618.0L1018.7 621.6M1066.6 618.3L1066.6 621.6M1018.7 621.6L1066.6 621.6M978.4 617.6L978.4 624.3M1042.7 621.6L1042.7 624.3M978.4 624.3L1042.7 624.3M938.1 621.0L938.1 633.3M1010.5 624.3L1010.5 633.3M938.1 633.3L1010.5 633.3M815.9 623.0L815.9 638.1M974.3 633.3L974.3 638.1M815.9 638.1L974.3 638.1M1149.8 616.6L1149.8 621.0M1169.9 616.6L1169.9 621.0M1149.8 621.0L1169.9 621.0M1129.6 616.6L1129.6 627.4M1159.8 621.0L1159.8 627.4M1129.6 627.4L1159.8 627.4M1190.1 616.6L1190.1 632.1M1210.2 616.6L1210.2 632.1M1190.1 632.1L1210.2 632.1M1144.7 627.4L1144.7 638.5M1200.1 632.1L1200.1 638.5M1144.7 638.5L1200.1 638.5M1230.4 616.6L1230.4 621.5M1250.5 616.6L1250.5 621.5M1230.4 621.5L1250.5 621.5M1290.9 616.6L1290.9 618.0M1311.0 616.6L1311.0 618.0M1290.9 618.0L1311.0 618.0M1270.7 616.6L1270.7 623.7M1300.9 618.0L1300.9 623.7M1270.7 623.7L1300.9 623.7M1240.5 621.5L1240.5 634.0M1285.8 623.7L1285.8 634.0M1240.5 634.0L1285.8 634.0M1351.3 616.6L1351.3 626.8M1371.5 616.6L1371.5 626.8M1351.3 626.8L1371.5 626.8M1331.2 616.6L1331.2 631.5M1361.4 626.8L1361.4 631.5M1331.2 631.5L1361.4 631.5M1391.7 616.6L1391.7 621.1M1411.8 616.6L1411.8 621.1M1391.7 621.1L1411.8 621.1M1452.1 616.6L1452.1 617.6M1472.3 616.6L1472.3 617.6M1452.1 617.6L1472.3 617.6M1532.8 616.6L1532.8 617.1M1552.9 616.6L1552.9 617.1M1532.8 617.1L1552.9 617.1M1512.6 616.6L1512.6 617.5M1542.8 617.1L1542.8 617.5M1512.6 617.5L1542.8 617.5M1492.4 616.6L1492.4 618.1M1527.7 617.5L1527.7 618.1M1492.4 618.1L1527.7 618.1M1462.2 617.6L1462.2 619.5M1510.1 618.1L1510.1 619.5M1462.2 619.5L1510.1 619.5M1633.5 616.6L1633.5 617.1M1653.7 616.6L1653.7 617.1M1633.5 617.1L1653.7 617.1M1673.9 616.6L1673.9 617.1M1694.0 616.6L1694.0 617.1M1673.9 617.1L1694.0 617.1M1643.6 617.1L1643.6 617.8M1683.9 617.1L1683.9 617.8M1643.6 617.8L1683.9 617.8M1613.4 616.6L1613.4 619.2M1663.8 617.8L1663.8 619.2M1613.4 619.2L1663.8 619.2M1593.2 616.6L1593.2 620.0M1638.6 619.2L1638.6 620.0M1593.2 620.0L1638.6 620.0M1573.1 616.6L1573.1 621.1M1615.9 620.0L1615.9 621.1M1573.1 621.1L1615.9 621.1M1486.1 619.5L1486.1 626.3M1594.5 621.1L1594.5 626.3M1486.1 626.3L1594.5 626.3M1432.0 616.6L1432.0 629.8M1540.3 626.3L1540.3 629.8M1432.0 629.8L1540.3 629.8M1401.7 621.1L1401.7 643.7M1486.1 629.8L1486.1 643.7M1401.7 643.7L1486.1 643.7M1346.3 631.5L1346.3 659.5M1443.9 643.7L1443.9 659.5M1346.3 659.5L1443.9 659.5M1263.1 634.0L1263.1 671.7M1395.1 659.5L1395.1 671.7M1263.1 671.7L1395.1 671.7M1172.4 638.5L1172.4 674.8M1329.1 671.7L1329.1 674.8M1172.4 674.8L1329.1 674.8M895.1 638.1L895.1 689.0M1250.8 674.8L1250.8 689.0M895.1 689.0L1250.8 689.0M209.5 664.8L209.5 713.4M1072.9 689.0L1072.9 713.4M209.5 713.4L1072.9 713.4" stroke="#000" stroke-width="1.6" fill="none" stroke-linecap="square"/>
</svg></body></html>
